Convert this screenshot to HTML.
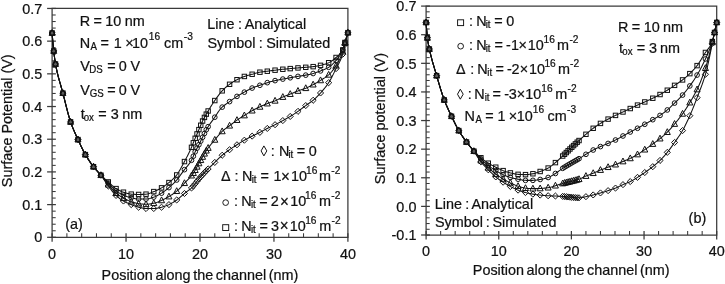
<!DOCTYPE html>
<html><head><meta charset="utf-8"><title>Surface potential</title>
<style>html,body{margin:0;padding:0;background:#fff;}svg{display:block;}text{font-family:"Liberation Sans",sans-serif;}</style></head>
<body>
<svg width="725" height="284" viewBox="0 0 725 284" font-family='"Liberation Sans", sans-serif' font-size="14.4" fill="#111111">
<rect width="725" height="284" fill="#ffffff"/>
<defs><filter id="soft" x="0" y="0" width="100%" height="100%" filterUnits="userSpaceOnUse" color-interpolation-filters="sRGB"><feGaussianBlur stdDeviation="0.35"/></filter></defs>
<g filter="url(#soft)" stroke-linecap="butt">
<path d="M52.1 8.45 H347.9 V237.3 H52.1 Z" fill="none" stroke="#3a3a3a" stroke-width="1.25"/>
<path d="M47.1 8.45 H55.9" stroke="#3a3a3a" stroke-width="1.25"/>
<path d="M52.1 14.99 H55.7" stroke="#3a3a3a" stroke-width="1.05"/>
<path d="M52.1 21.53 H55.7" stroke="#3a3a3a" stroke-width="1.05"/>
<path d="M52.1 28.07 H55.7" stroke="#3a3a3a" stroke-width="1.05"/>
<path d="M52.1 34.6 H55.7" stroke="#3a3a3a" stroke-width="1.05"/>
<path d="M47.1 41.14 H55.9" stroke="#3a3a3a" stroke-width="1.25"/>
<path d="M52.1 47.68 H55.7" stroke="#3a3a3a" stroke-width="1.05"/>
<path d="M52.1 54.22 H55.7" stroke="#3a3a3a" stroke-width="1.05"/>
<path d="M52.1 60.76 H55.7" stroke="#3a3a3a" stroke-width="1.05"/>
<path d="M52.1 67.3 H55.7" stroke="#3a3a3a" stroke-width="1.05"/>
<path d="M47.1 73.84 H55.9" stroke="#3a3a3a" stroke-width="1.25"/>
<path d="M52.1 80.37 H55.7" stroke="#3a3a3a" stroke-width="1.05"/>
<path d="M52.1 86.91 H55.7" stroke="#3a3a3a" stroke-width="1.05"/>
<path d="M52.1 93.45 H55.7" stroke="#3a3a3a" stroke-width="1.05"/>
<path d="M52.1 99.99 H55.7" stroke="#3a3a3a" stroke-width="1.05"/>
<path d="M47.1 106.53 H55.9" stroke="#3a3a3a" stroke-width="1.25"/>
<path d="M52.1 113.07 H55.7" stroke="#3a3a3a" stroke-width="1.05"/>
<path d="M52.1 119.61 H55.7" stroke="#3a3a3a" stroke-width="1.05"/>
<path d="M52.1 126.14 H55.7" stroke="#3a3a3a" stroke-width="1.05"/>
<path d="M52.1 132.68 H55.7" stroke="#3a3a3a" stroke-width="1.05"/>
<path d="M47.1 139.22 H55.9" stroke="#3a3a3a" stroke-width="1.25"/>
<path d="M52.1 145.76 H55.7" stroke="#3a3a3a" stroke-width="1.05"/>
<path d="M52.1 152.3 H55.7" stroke="#3a3a3a" stroke-width="1.05"/>
<path d="M52.1 158.84 H55.7" stroke="#3a3a3a" stroke-width="1.05"/>
<path d="M52.1 165.38 H55.7" stroke="#3a3a3a" stroke-width="1.05"/>
<path d="M47.1 171.91 H55.9" stroke="#3a3a3a" stroke-width="1.25"/>
<path d="M52.1 178.45 H55.7" stroke="#3a3a3a" stroke-width="1.05"/>
<path d="M52.1 184.99 H55.7" stroke="#3a3a3a" stroke-width="1.05"/>
<path d="M52.1 191.53 H55.7" stroke="#3a3a3a" stroke-width="1.05"/>
<path d="M52.1 198.07 H55.7" stroke="#3a3a3a" stroke-width="1.05"/>
<path d="M47.1 204.61 H55.9" stroke="#3a3a3a" stroke-width="1.25"/>
<path d="M52.1 211.15 H55.7" stroke="#3a3a3a" stroke-width="1.05"/>
<path d="M52.1 217.68 H55.7" stroke="#3a3a3a" stroke-width="1.05"/>
<path d="M52.1 224.22 H55.7" stroke="#3a3a3a" stroke-width="1.05"/>
<path d="M52.1 230.76 H55.7" stroke="#3a3a3a" stroke-width="1.05"/>
<path d="M47.1 237.3 H55.9" stroke="#3a3a3a" stroke-width="1.25"/>
<path d="M52.1 233.3 V241.7" stroke="#3a3a3a" stroke-width="1.25"/>
<path d="M66.89 233.3 V237.3" stroke="#3a3a3a" stroke-width="1.05"/>
<path d="M81.68 233.3 V237.3" stroke="#3a3a3a" stroke-width="1.05"/>
<path d="M96.47 233.3 V237.3" stroke="#3a3a3a" stroke-width="1.05"/>
<path d="M111.26 233.3 V237.3" stroke="#3a3a3a" stroke-width="1.05"/>
<path d="M126.05 233.3 V241.7" stroke="#3a3a3a" stroke-width="1.25"/>
<path d="M140.84 233.3 V237.3" stroke="#3a3a3a" stroke-width="1.05"/>
<path d="M155.63 233.3 V237.3" stroke="#3a3a3a" stroke-width="1.05"/>
<path d="M170.42 233.3 V237.3" stroke="#3a3a3a" stroke-width="1.05"/>
<path d="M185.21 233.3 V237.3" stroke="#3a3a3a" stroke-width="1.05"/>
<path d="M200 233.3 V241.7" stroke="#3a3a3a" stroke-width="1.25"/>
<path d="M214.79 233.3 V237.3" stroke="#3a3a3a" stroke-width="1.05"/>
<path d="M229.58 233.3 V237.3" stroke="#3a3a3a" stroke-width="1.05"/>
<path d="M244.37 233.3 V237.3" stroke="#3a3a3a" stroke-width="1.05"/>
<path d="M259.16 233.3 V237.3" stroke="#3a3a3a" stroke-width="1.05"/>
<path d="M273.95 233.3 V241.7" stroke="#3a3a3a" stroke-width="1.25"/>
<path d="M288.74 233.3 V237.3" stroke="#3a3a3a" stroke-width="1.05"/>
<path d="M303.53 233.3 V237.3" stroke="#3a3a3a" stroke-width="1.05"/>
<path d="M318.32 233.3 V237.3" stroke="#3a3a3a" stroke-width="1.05"/>
<path d="M333.11 233.3 V237.3" stroke="#3a3a3a" stroke-width="1.05"/>
<path d="M347.9 233.3 V241.7" stroke="#3a3a3a" stroke-width="1.25"/>
<text transform="scale(1 1.04)" x="42.3" y="13.125" text-anchor="end" stroke="#111111" stroke-width="0.22">0.7</text>
<text transform="scale(1 1.04)" x="42.3" y="44.560" text-anchor="end" stroke="#111111" stroke-width="0.22">0.6</text>
<text transform="scale(1 1.04)" x="42.3" y="75.996" text-anchor="end" stroke="#111111" stroke-width="0.22">0.5</text>
<text transform="scale(1 1.04)" x="42.3" y="107.431" text-anchor="end" stroke="#111111" stroke-width="0.22">0.4</text>
<text transform="scale(1 1.04)" x="42.3" y="138.867" text-anchor="end" stroke="#111111" stroke-width="0.22">0.3</text>
<text transform="scale(1 1.04)" x="42.3" y="170.302" text-anchor="end" stroke="#111111" stroke-width="0.22">0.2</text>
<text transform="scale(1 1.04)" x="42.3" y="201.738" text-anchor="end" stroke="#111111" stroke-width="0.22">0.1</text>
<text transform="scale(1 1.04)" x="42.3" y="233.173" text-anchor="end" stroke="#111111" stroke-width="0.22">0</text>
<text transform="scale(1 1.04)" x="52.1" y="248.846" text-anchor="middle" stroke="#111111" stroke-width="0.22">0</text>
<text transform="scale(1 1.04)" x="126.05" y="248.846" text-anchor="middle" stroke="#111111" stroke-width="0.22">10</text>
<text transform="scale(1 1.04)" x="200" y="248.846" text-anchor="middle" stroke="#111111" stroke-width="0.22">20</text>
<text transform="scale(1 1.04)" x="273.95" y="248.846" text-anchor="middle" stroke="#111111" stroke-width="0.22">30</text>
<text transform="scale(1 1.04)" x="347.9" y="248.846" text-anchor="middle" stroke="#111111" stroke-width="0.22">40</text>
<path d="M426.1 6.1 H716.7 V235 H426.1 Z" fill="none" stroke="#3a3a3a" stroke-width="1.25"/>
<path d="M421.1 6.1 H429.9" stroke="#3a3a3a" stroke-width="1.25"/>
<path d="M426.1 11.82 H429.7" stroke="#3a3a3a" stroke-width="1.05"/>
<path d="M426.1 17.55 H429.7" stroke="#3a3a3a" stroke-width="1.05"/>
<path d="M426.1 23.27 H429.7" stroke="#3a3a3a" stroke-width="1.05"/>
<path d="M426.1 28.99 H429.7" stroke="#3a3a3a" stroke-width="1.05"/>
<path d="M421.1 34.71 H429.9" stroke="#3a3a3a" stroke-width="1.25"/>
<path d="M426.1 40.44 H429.7" stroke="#3a3a3a" stroke-width="1.05"/>
<path d="M426.1 46.16 H429.7" stroke="#3a3a3a" stroke-width="1.05"/>
<path d="M426.1 51.88 H429.7" stroke="#3a3a3a" stroke-width="1.05"/>
<path d="M426.1 57.6 H429.7" stroke="#3a3a3a" stroke-width="1.05"/>
<path d="M421.1 63.33 H429.9" stroke="#3a3a3a" stroke-width="1.25"/>
<path d="M426.1 69.05 H429.7" stroke="#3a3a3a" stroke-width="1.05"/>
<path d="M426.1 74.77 H429.7" stroke="#3a3a3a" stroke-width="1.05"/>
<path d="M426.1 80.49 H429.7" stroke="#3a3a3a" stroke-width="1.05"/>
<path d="M426.1 86.22 H429.7" stroke="#3a3a3a" stroke-width="1.05"/>
<path d="M421.1 91.94 H429.9" stroke="#3a3a3a" stroke-width="1.25"/>
<path d="M426.1 97.66 H429.7" stroke="#3a3a3a" stroke-width="1.05"/>
<path d="M426.1 103.38 H429.7" stroke="#3a3a3a" stroke-width="1.05"/>
<path d="M426.1 109.11 H429.7" stroke="#3a3a3a" stroke-width="1.05"/>
<path d="M426.1 114.83 H429.7" stroke="#3a3a3a" stroke-width="1.05"/>
<path d="M421.1 120.55 H429.9" stroke="#3a3a3a" stroke-width="1.25"/>
<path d="M426.1 126.27 H429.7" stroke="#3a3a3a" stroke-width="1.05"/>
<path d="M426.1 132 H429.7" stroke="#3a3a3a" stroke-width="1.05"/>
<path d="M426.1 137.72 H429.7" stroke="#3a3a3a" stroke-width="1.05"/>
<path d="M426.1 143.44 H429.7" stroke="#3a3a3a" stroke-width="1.05"/>
<path d="M421.1 149.16 H429.9" stroke="#3a3a3a" stroke-width="1.25"/>
<path d="M426.1 154.88 H429.7" stroke="#3a3a3a" stroke-width="1.05"/>
<path d="M426.1 160.61 H429.7" stroke="#3a3a3a" stroke-width="1.05"/>
<path d="M426.1 166.33 H429.7" stroke="#3a3a3a" stroke-width="1.05"/>
<path d="M426.1 172.05 H429.7" stroke="#3a3a3a" stroke-width="1.05"/>
<path d="M421.1 177.78 H429.9" stroke="#3a3a3a" stroke-width="1.25"/>
<path d="M426.1 183.5 H429.7" stroke="#3a3a3a" stroke-width="1.05"/>
<path d="M426.1 189.22 H429.7" stroke="#3a3a3a" stroke-width="1.05"/>
<path d="M426.1 194.94 H429.7" stroke="#3a3a3a" stroke-width="1.05"/>
<path d="M426.1 200.67 H429.7" stroke="#3a3a3a" stroke-width="1.05"/>
<path d="M421.1 206.39 H429.9" stroke="#3a3a3a" stroke-width="1.25"/>
<path d="M426.1 212.11 H429.7" stroke="#3a3a3a" stroke-width="1.05"/>
<path d="M426.1 217.83 H429.7" stroke="#3a3a3a" stroke-width="1.05"/>
<path d="M426.1 223.55 H429.7" stroke="#3a3a3a" stroke-width="1.05"/>
<path d="M426.1 229.28 H429.7" stroke="#3a3a3a" stroke-width="1.05"/>
<path d="M421.1 235 H429.9" stroke="#3a3a3a" stroke-width="1.25"/>
<path d="M426.1 231 V239.4" stroke="#3a3a3a" stroke-width="1.25"/>
<path d="M440.63 231 V235" stroke="#3a3a3a" stroke-width="1.05"/>
<path d="M455.16 231 V235" stroke="#3a3a3a" stroke-width="1.05"/>
<path d="M469.69 231 V235" stroke="#3a3a3a" stroke-width="1.05"/>
<path d="M484.22 231 V235" stroke="#3a3a3a" stroke-width="1.05"/>
<path d="M498.75 231 V239.4" stroke="#3a3a3a" stroke-width="1.25"/>
<path d="M513.28 231 V235" stroke="#3a3a3a" stroke-width="1.05"/>
<path d="M527.81 231 V235" stroke="#3a3a3a" stroke-width="1.05"/>
<path d="M542.34 231 V235" stroke="#3a3a3a" stroke-width="1.05"/>
<path d="M556.87 231 V235" stroke="#3a3a3a" stroke-width="1.05"/>
<path d="M571.4 231 V239.4" stroke="#3a3a3a" stroke-width="1.25"/>
<path d="M585.93 231 V235" stroke="#3a3a3a" stroke-width="1.05"/>
<path d="M600.46 231 V235" stroke="#3a3a3a" stroke-width="1.05"/>
<path d="M614.99 231 V235" stroke="#3a3a3a" stroke-width="1.05"/>
<path d="M629.52 231 V235" stroke="#3a3a3a" stroke-width="1.05"/>
<path d="M644.05 231 V239.4" stroke="#3a3a3a" stroke-width="1.25"/>
<path d="M658.58 231 V235" stroke="#3a3a3a" stroke-width="1.05"/>
<path d="M673.11 231 V235" stroke="#3a3a3a" stroke-width="1.05"/>
<path d="M687.64 231 V235" stroke="#3a3a3a" stroke-width="1.05"/>
<path d="M702.17 231 V235" stroke="#3a3a3a" stroke-width="1.05"/>
<path d="M716.7 231 V239.4" stroke="#3a3a3a" stroke-width="1.25"/>
<text transform="scale(1 1.04)" x="416.4" y="10.865" text-anchor="end" stroke="#111111" stroke-width="0.22">0.7</text>
<text transform="scale(1 1.04)" x="416.4" y="38.377" text-anchor="end" stroke="#111111" stroke-width="0.22">0.6</text>
<text transform="scale(1 1.04)" x="416.4" y="65.889" text-anchor="end" stroke="#111111" stroke-width="0.22">0.5</text>
<text transform="scale(1 1.04)" x="416.4" y="93.401" text-anchor="end" stroke="#111111" stroke-width="0.22">0.4</text>
<text transform="scale(1 1.04)" x="416.4" y="120.913" text-anchor="end" stroke="#111111" stroke-width="0.22">0.3</text>
<text transform="scale(1 1.04)" x="416.4" y="148.425" text-anchor="end" stroke="#111111" stroke-width="0.22">0.2</text>
<text transform="scale(1 1.04)" x="416.4" y="175.938" text-anchor="end" stroke="#111111" stroke-width="0.22">0.1</text>
<text transform="scale(1 1.04)" x="416.4" y="203.450" text-anchor="end" stroke="#111111" stroke-width="0.22">0.0</text>
<text transform="scale(1 1.04)" x="416.4" y="230.962" text-anchor="end" stroke="#111111" stroke-width="0.22">-0.1</text>
<text transform="scale(1 1.04)" x="426.1" y="246.442" text-anchor="middle" stroke="#111111" stroke-width="0.22">0</text>
<text transform="scale(1 1.04)" x="498.75" y="246.442" text-anchor="middle" stroke="#111111" stroke-width="0.22">10</text>
<text transform="scale(1 1.04)" x="571.4" y="246.442" text-anchor="middle" stroke="#111111" stroke-width="0.22">20</text>
<text transform="scale(1 1.04)" x="644.05" y="246.442" text-anchor="middle" stroke="#111111" stroke-width="0.22">30</text>
<text transform="scale(1 1.04)" x="716.7" y="246.442" text-anchor="middle" stroke="#111111" stroke-width="0.22">40</text>
<path d="M52.1 32.97 L52.28 35.31 L52.47 37.59 L52.65 39.8 L52.84 41.93 L53.02 43.99 L53.21 45.95 L53.39 47.83 L53.58 49.6 L53.76 51.28 L53.95 52.89 L54.13 54.45 L54.32 55.95 L54.5 57.4 L54.69 58.79 L54.87 60.11 L55.06 61.36 L55.24 62.53 L55.43 63.62 L55.61 64.63 L55.8 65.61 L55.98 66.57 L56.17 67.5 L56.35 68.4 L56.54 69.29 L56.72 70.15 L56.91 70.99 L57.09 71.81 L57.28 72.62 L57.46 73.4 L57.65 74.17 L57.83 74.92 L58.02 75.66 L58.2 76.38 L58.39 77.09 L58.57 77.79 L58.76 78.48 L58.94 79.15 L59.13 79.82 L59.31 80.48 L59.49 81.13 L60.23 83.7 L60.97 86.23 L61.71 88.8 L62.45 91.46 L63.19 94.27 L63.93 97.17 L64.67 100.13 L65.41 103.1 L66.15 106.06 L66.89 108.98 L67.63 111.83 L68.37 114.57 L69.11 117.18 L69.85 119.64 L70.59 121.89 L71.33 123.99 L72.07 125.97 L72.81 127.85 L73.55 129.65 L74.28 131.38 L75.02 133.06 L75.76 134.7 L76.5 136.32 L77.24 137.93 L77.98 139.55 L78.72 141.17 L79.46 142.78 L80.2 144.38 L80.94 145.96 L81.68 147.51 L82.42 149.02 L83.16 150.49 L83.9 151.91 L84.64 153.28 L85.38 154.59 L86.12 155.84 L86.86 157.06 L87.6 158.25 L88.34 159.4 L89.07 160.52 L89.81 161.61 L90.55 162.68 L91.29 163.71 L92.03 164.73 L92.77 165.72 L93.51 166.68 L94.25 167.63 L94.99 168.55 L95.73 169.45 L96.47 170.33 L97.21 171.19 L97.95 172.03 L98.69 172.85 L99.43 173.64 L100.17 174.42 L100.91 175.18 L101.65 175.92 L102.39 176.64 L103.13 177.33 L103.86 178.01 L104.6 178.67 L105.34 179.32 L106.08 179.97 L106.82 180.62 L107.56 181.27 L108.3 181.92 L109.04 182.59 L109.78 183.28 L110.52 183.97 L111.26 184.67 L112 185.35 L112.74 186.02 L113.48 186.66 L114.22 187.27 L114.96 187.84 L115.7 188.35 L116.44 188.81 L117.18 189.26 L117.92 189.68 L118.66 190.08 L119.39 190.47 L120.13 190.83 L120.87 191.18 L121.61 191.5 L122.35 191.79 L123.09 192.06 L123.83 192.31 L124.57 192.55 L125.31 192.78 L126.05 193.01 L126.79 193.23 L127.53 193.44 L128.27 193.62 L129.01 193.79 L129.75 193.93 L130.49 194.05 L131.23 194.13 L131.97 194.18 L132.71 194.23 L133.44 194.28 L134.18 194.33 L134.92 194.37 L135.66 194.4 L136.4 194.43 L137.14 194.45 L137.88 194.47 L138.62 194.47 L139.36 194.47 L140.1 194.46 L140.84 194.45 L141.58 194.42 L142.32 194.39 L143.06 194.36 L143.8 194.32 L144.54 194.27 L145.28 194.22 L146.02 194.17 L146.76 194.1 L147.5 193.97 L148.23 193.79 L148.97 193.57 L149.71 193.3 L150.45 193.01 L151.19 192.7 L151.93 192.38 L152.67 192.06 L153.41 191.74 L154.15 191.44 L154.89 191.14 L155.63 190.82 L156.37 190.49 L157.11 190.15 L157.85 189.8 L158.59 189.44 L159.33 189.06 L160.07 188.67 L160.81 188.27 L161.55 187.85 L162.29 187.41 L163.02 186.95 L163.76 186.47 L164.5 185.96 L165.24 185.44 L165.98 184.9 L166.72 184.35 L167.46 183.77 L168.2 183.18 L168.94 182.58 L169.68 181.97 L170.42 181.34 L171.16 180.7 L171.9 180.04 L172.64 179.35 L173.38 178.64 L174.12 177.89 L174.86 177.11 L175.6 176.28 L176.34 175.4 L177.08 174.48 L177.81 173.45 L178.55 172.32 L179.29 171.1 L180.03 169.82 L180.77 168.49 L181.51 167.12 L182.25 165.73 L182.99 164.32 L183.73 162.93 L184.47 161.56 L185.21 160.18 L185.95 158.79 L186.69 157.37 L187.43 155.93 L188.17 154.47 L188.91 152.96 L189.65 151.42 L190.39 149.84 L191.13 148.2 L191.87 146.45 L192.6 144.63 L193.34 142.78 L194.08 140.95 L194.82 139.17 L195.56 137.41 L196.3 135.67 L197.04 133.93 L197.78 132.2 L198.52 130.48 L199.26 128.76 L200 127.02 L200.74 125.25 L201.48 123.51 L202.22 121.83 L202.96 120.26 L203.7 118.8 L204.44 117.41 L205.18 116.07 L205.92 114.77 L206.66 113.5 L207.39 112.24 L208.13 110.98 L208.87 109.74 L209.61 108.52 L210.35 107.32 L211.09 106.13 L211.83 104.97 L212.57 103.83 L213.31 102.71 L214.05 101.62 L214.79 100.55 L215.53 99.48 L216.27 98.41 L217.01 97.37 L217.75 96.33 L218.49 95.33 L219.23 94.35 L219.97 93.41 L220.71 92.5 L221.45 91.64 L222.18 90.84 L222.92 90.07 L223.66 89.33 L224.4 88.61 L225.14 87.93 L225.88 87.26 L226.62 86.62 L227.36 86.01 L228.1 85.42 L228.84 84.85 L229.58 84.3 L230.32 83.77 L231.06 83.25 L231.8 82.76 L232.54 82.28 L233.28 81.81 L234.02 81.36 L234.76 80.93 L235.5 80.51 L236.24 80.11 L236.97 79.72 L237.71 79.34 L238.45 78.97 L239.19 78.61 L239.93 78.27 L240.67 77.93 L241.41 77.6 L242.15 77.29 L242.89 77 L243.63 76.72 L244.37 76.45 L245.11 76.2 L245.85 75.97 L246.59 75.75 L247.33 75.54 L248.07 75.33 L248.81 75.14 L249.55 74.94 L250.29 74.75 L251.03 74.56 L251.76 74.36 L252.5 74.16 L253.24 73.96 L253.98 73.74 L254.72 73.52 L255.46 73.31 L256.2 73.09 L256.94 72.89 L257.68 72.69 L258.42 72.51 L259.16 72.34 L259.9 72.2 L260.64 72.08 L261.38 71.96 L262.12 71.86 L262.86 71.76 L263.6 71.67 L264.34 71.58 L265.08 71.49 L265.82 71.41 L266.56 71.32 L267.29 71.22 L268.03 71.12 L268.77 71.02 L269.51 70.92 L270.25 70.82 L270.99 70.72 L271.73 70.63 L272.47 70.53 L273.21 70.43 L273.95 70.33 L274.69 70.24 L275.43 70.15 L276.17 70.05 L276.91 69.96 L277.65 69.86 L278.39 69.77 L279.13 69.68 L279.87 69.59 L280.61 69.5 L281.34 69.42 L282.08 69.34 L282.82 69.26 L283.56 69.19 L284.3 69.12 L285.04 69.05 L285.78 68.98 L286.52 68.92 L287.26 68.86 L288 68.79 L288.74 68.73 L289.48 68.67 L290.22 68.6 L290.96 68.54 L291.7 68.47 L292.44 68.41 L293.18 68.34 L293.92 68.27 L294.66 68.21 L295.4 68.14 L296.13 68.08 L296.87 68.01 L297.61 67.95 L298.35 67.89 L299.09 67.83 L299.83 67.77 L300.57 67.71 L301.31 67.65 L302.05 67.6 L302.79 67.54 L303.53 67.48 L304.27 67.42 L305.01 67.36 L305.75 67.3 L306.49 67.24 L307.23 67.18 L307.97 67.12 L308.71 67.06 L309.45 67 L310.19 66.94 L310.92 66.87 L311.66 66.8 L312.4 66.73 L313.14 66.64 L313.88 66.55 L314.62 66.45 L315.36 66.34 L316.1 66.22 L316.84 66.09 L317.58 65.95 L318.32 65.81 L319.06 65.66 L319.8 65.5 L320.54 65.34 L321.28 65.16 L322.02 64.98 L322.76 64.79 L323.5 64.58 L324.24 64.36 L324.98 64.13 L325.71 63.88 L326.45 63.62 L327.19 63.34 L327.93 63.04 L328.67 62.72 L329.41 62.37 L330.15 61.96 L330.89 61.51 L331.63 61.03 L332.37 60.5 L333.11 59.95 L333.85 59.36 L334.59 58.75 L335.33 58.13 L336.07 57.49 L336.81 56.86 L337.55 56.23 L338.29 55.59 L339.03 54.91 L339.77 54.16 L340.5 53.31 L340.69 53.08 L340.87 52.85 L341.06 52.6 L341.24 52.35 L341.43 52.09 L341.61 51.82 L341.8 51.54 L341.98 51.24 L342.17 50.94 L342.35 50.63 L342.54 50.31 L342.72 49.97 L342.72 49.97 L342.91 49.58 L343.09 49.11 L343.28 48.57 L343.46 47.96 L343.46 47.96 L343.65 47.31 L343.83 46.63 L344.02 45.92 L344.2 45.2 L344.39 44.48 L344.57 43.77 L344.76 43.09 L344.94 42.45 L345.13 41.83 L345.31 41.21 L345.5 40.59 L345.68 39.98 L345.87 39.36 L346.05 38.75 L346.24 38.13 L346.42 37.52 L346.42 37.52 L346.61 36.9 L346.79 36.29 L346.98 35.68 L347.16 35.07 L347.16 35.07 L347.35 34.46 L347.53 33.86 L347.72 33.25 L347.9 32.64" fill="none" stroke="#111111" stroke-width="1.05" stroke-linejoin="round"/>
<path d="M52.1 32.97 L52.28 35.31 L52.47 37.59 L52.65 39.8 L52.84 41.93 L53.02 43.99 L53.21 45.95 L53.39 47.83 L53.58 49.6 L53.76 51.28 L53.95 52.89 L54.13 54.45 L54.32 55.95 L54.5 57.4 L54.69 58.79 L54.87 60.11 L55.06 61.36 L55.24 62.53 L55.43 63.62 L55.61 64.63 L55.8 65.61 L55.98 66.57 L56.17 67.5 L56.35 68.4 L56.54 69.29 L56.72 70.15 L56.91 70.99 L57.09 71.81 L57.28 72.62 L57.46 73.4 L57.65 74.17 L57.83 74.92 L58.02 75.66 L58.2 76.38 L58.39 77.09 L58.57 77.79 L58.76 78.48 L58.94 79.15 L59.13 79.82 L59.31 80.48 L59.49 81.13 L60.23 83.7 L60.97 86.23 L61.71 88.8 L62.45 91.46 L63.19 94.27 L63.93 97.17 L64.67 100.13 L65.41 103.1 L66.15 106.06 L66.89 108.98 L67.63 111.83 L68.37 114.57 L69.11 117.18 L69.85 119.64 L70.59 121.89 L71.33 123.99 L72.07 125.97 L72.81 127.85 L73.55 129.65 L74.28 131.38 L75.02 133.06 L75.76 134.7 L76.5 136.32 L77.24 137.93 L77.98 139.55 L78.72 141.17 L79.46 142.78 L80.2 144.38 L80.94 145.96 L81.68 147.51 L82.42 149.02 L83.16 150.49 L83.9 151.91 L84.64 153.28 L85.38 154.59 L86.12 155.84 L86.86 157.06 L87.6 158.25 L88.34 159.4 L89.07 160.52 L89.81 161.61 L90.55 162.68 L91.29 163.71 L92.03 164.73 L92.77 165.72 L93.51 166.68 L94.25 167.62 L94.99 168.53 L95.73 169.41 L96.47 170.27 L97.21 171.11 L97.95 171.94 L98.69 172.75 L99.43 173.56 L100.17 174.37 L100.91 175.18 L101.65 176 L102.39 176.8 L103.13 177.59 L103.86 178.38 L104.6 179.17 L105.34 179.95 L106.08 180.72 L106.82 181.49 L107.56 182.26 L108.3 183.03 L109.04 183.81 L109.78 184.62 L110.52 185.43 L111.26 186.25 L112 187.06 L112.74 187.84 L113.48 188.6 L114.22 189.31 L114.96 189.96 L115.7 190.55 L116.44 191.09 L117.18 191.61 L117.92 192.11 L118.66 192.58 L119.39 193.04 L120.13 193.47 L120.87 193.88 L121.61 194.26 L122.35 194.62 L123.09 194.96 L123.83 195.28 L124.57 195.59 L125.31 195.88 L126.05 196.16 L126.79 196.43 L127.53 196.69 L128.27 196.93 L129.01 197.16 L129.75 197.37 L130.49 197.56 L131.23 197.74 L131.97 197.92 L132.71 198.1 L133.44 198.28 L134.18 198.45 L134.92 198.61 L135.66 198.75 L136.4 198.87 L137.14 198.97 L137.88 199.03 L138.62 199.05 L139.36 199.05 L140.1 199.05 L140.84 199.05 L141.58 199.05 L142.32 199.05 L143.06 199.05 L143.8 199.05 L144.54 199.05 L145.28 199.05 L146.02 199.05 L146.76 199.02 L147.5 198.94 L148.23 198.81 L148.97 198.65 L149.71 198.45 L150.45 198.23 L151.19 197.98 L151.93 197.73 L152.67 197.47 L153.41 197.21 L154.15 196.96 L154.89 196.68 L155.63 196.37 L156.37 196.03 L157.11 195.67 L157.85 195.29 L158.59 194.89 L159.33 194.47 L160.07 194.05 L160.81 193.61 L161.55 193.16 L162.29 192.7 L163.02 192.21 L163.76 191.7 L164.5 191.17 L165.24 190.61 L165.98 190.04 L166.72 189.45 L167.46 188.84 L168.2 188.23 L168.94 187.61 L169.68 186.97 L170.42 186.32 L171.16 185.65 L171.9 184.97 L172.64 184.26 L173.38 183.54 L174.12 182.79 L174.86 182.02 L175.6 181.23 L176.34 180.41 L177.08 179.56 L177.81 178.65 L178.55 177.7 L179.29 176.71 L180.03 175.7 L180.77 174.68 L181.51 173.65 L182.25 172.62 L182.99 171.6 L183.73 170.61 L184.47 169.65 L185.21 168.73 L185.95 167.83 L186.69 166.95 L187.43 166.05 L188.17 165.13 L188.91 164.18 L189.65 163.16 L190.39 162.07 L191.13 160.9 L191.87 159.6 L192.6 158.02 L193.34 156.24 L194.08 154.4 L194.82 152.62 L195.56 151.03 L196.3 149.56 L197.04 148.15 L197.78 146.78 L198.52 145.41 L199.26 144.01 L200 142.56 L200.74 141.07 L201.48 139.56 L202.22 138.04 L202.96 136.53 L203.7 135.02 L204.44 133.48 L205.18 131.93 L205.92 130.45 L206.66 129.09 L207.39 127.85 L208.13 126.67 L208.87 125.55 L209.61 124.47 L210.35 123.42 L211.09 122.4 L211.83 121.39 L212.57 120.37 L213.31 119.35 L214.05 118.3 L214.79 117.21 L215.53 116.09 L216.27 114.94 L217.01 113.79 L217.75 112.66 L218.49 111.56 L219.23 110.51 L219.97 109.53 L220.71 108.63 L221.45 107.84 L222.18 107.13 L222.92 106.47 L223.66 105.86 L224.4 105.28 L225.14 104.73 L225.88 104.2 L226.62 103.69 L227.36 103.18 L228.1 102.67 L228.84 102.16 L229.58 101.62 L230.32 101.08 L231.06 100.54 L231.8 99.99 L232.54 99.45 L233.28 98.92 L234.02 98.39 L234.76 97.87 L235.5 97.36 L236.24 96.87 L236.97 96.39 L237.71 95.93 L238.45 95.48 L239.19 95.04 L239.93 94.61 L240.67 94.19 L241.41 93.78 L242.15 93.37 L242.89 92.96 L243.63 92.55 L244.37 92.14 L245.11 91.73 L245.85 91.32 L246.59 90.9 L247.33 90.48 L248.07 90.07 L248.81 89.67 L249.55 89.28 L250.29 88.91 L251.03 88.55 L251.76 88.22 L252.5 87.91 L253.24 87.62 L253.98 87.33 L254.72 87.06 L255.46 86.8 L256.2 86.55 L256.94 86.3 L257.68 86.05 L258.42 85.79 L259.16 85.54 L259.9 85.28 L260.64 85.01 L261.38 84.74 L262.12 84.47 L262.86 84.19 L263.6 83.92 L264.34 83.65 L265.08 83.39 L265.82 83.14 L266.56 82.89 L267.29 82.66 L268.03 82.44 L268.77 82.23 L269.51 82.02 L270.25 81.81 L270.99 81.61 L271.73 81.42 L272.47 81.23 L273.21 81.05 L273.95 80.87 L274.69 80.7 L275.43 80.53 L276.17 80.37 L276.91 80.22 L277.65 80.06 L278.39 79.92 L279.13 79.77 L279.87 79.63 L280.61 79.48 L281.34 79.34 L282.08 79.21 L282.82 79.07 L283.56 78.93 L284.3 78.79 L285.04 78.66 L285.78 78.53 L286.52 78.4 L287.26 78.27 L288 78.15 L288.74 78.02 L289.48 77.89 L290.22 77.76 L290.96 77.63 L291.7 77.5 L292.44 77.36 L293.18 77.23 L293.92 77.1 L294.66 76.97 L295.4 76.83 L296.13 76.7 L296.87 76.58 L297.61 76.45 L298.35 76.33 L299.09 76.21 L299.83 76.1 L300.57 75.98 L301.31 75.87 L302.05 75.76 L302.79 75.64 L303.53 75.53 L304.27 75.41 L305.01 75.28 L305.75 75.14 L306.49 75 L307.23 74.86 L307.97 74.71 L308.71 74.56 L309.45 74.41 L310.19 74.24 L310.92 74.07 L311.66 73.89 L312.4 73.71 L313.14 73.51 L313.88 73.3 L314.62 73.07 L315.36 72.83 L316.1 72.58 L316.84 72.31 L317.58 72.04 L318.32 71.76 L319.06 71.47 L319.8 71.18 L320.54 70.89 L321.28 70.61 L322.02 70.32 L322.76 70.04 L323.5 69.76 L324.24 69.46 L324.98 69.15 L325.71 68.83 L326.45 68.49 L327.19 68.12 L327.93 67.73 L328.67 67.3 L329.41 66.82 L330.15 66.29 L330.89 65.71 L331.63 65.07 L332.37 64.39 L333.11 63.67 L333.85 62.91 L334.59 62.11 L335.33 61.29 L336.07 60.43 L336.81 59.55 L337.55 58.65 L338.29 57.69 L339.03 56.67 L339.77 55.56 L340.5 54.36 L340.69 54.04 L340.87 53.71 L341.06 53.38 L341.24 53.04 L341.43 52.69 L341.61 52.33 L341.8 51.96 L341.98 51.58 L342.17 51.19 L342.35 50.79 L342.54 50.39 L342.72 49.97 L342.72 49.97 L342.91 49.51 L343.09 49 L343.28 48.43 L343.46 47.82 L343.46 47.82 L343.65 47.18 L343.83 46.51 L344.02 45.82 L344.2 45.13 L344.39 44.43 L344.57 43.75 L344.76 43.09 L344.94 42.45 L345.13 41.83 L345.31 41.21 L345.5 40.59 L345.68 39.98 L345.87 39.36 L346.05 38.75 L346.24 38.13 L346.42 37.52 L346.42 37.52 L346.61 36.9 L346.79 36.29 L346.98 35.68 L347.16 35.07 L347.16 35.07 L347.35 34.46 L347.53 33.86 L347.72 33.25 L347.9 32.64" fill="none" stroke="#111111" stroke-width="1.05" stroke-linejoin="round"/>
<path d="M52.1 32.97 L52.28 35.31 L52.47 37.59 L52.65 39.8 L52.84 41.93 L53.02 43.99 L53.21 45.95 L53.39 47.83 L53.58 49.6 L53.76 51.28 L53.95 52.89 L54.13 54.45 L54.32 55.95 L54.5 57.4 L54.69 58.79 L54.87 60.11 L55.06 61.36 L55.24 62.53 L55.43 63.62 L55.61 64.63 L55.8 65.61 L55.98 66.57 L56.17 67.5 L56.35 68.4 L56.54 69.29 L56.72 70.15 L56.91 70.99 L57.09 71.81 L57.28 72.62 L57.46 73.4 L57.65 74.17 L57.83 74.92 L58.02 75.66 L58.2 76.38 L58.39 77.09 L58.57 77.79 L58.76 78.48 L58.94 79.15 L59.13 79.82 L59.31 80.48 L59.49 81.13 L60.23 83.7 L60.97 86.23 L61.71 88.8 L62.45 91.46 L63.19 94.27 L63.93 97.17 L64.67 100.13 L65.41 103.1 L66.15 106.06 L66.89 108.98 L67.63 111.83 L68.37 114.57 L69.11 117.18 L69.85 119.64 L70.59 121.89 L71.33 123.99 L72.07 125.97 L72.81 127.85 L73.55 129.65 L74.28 131.38 L75.02 133.06 L75.76 134.7 L76.5 136.32 L77.24 137.93 L77.98 139.55 L78.72 141.17 L79.46 142.78 L80.2 144.38 L80.94 145.96 L81.68 147.51 L82.42 149.02 L83.16 150.49 L83.9 151.91 L84.64 153.28 L85.38 154.59 L86.12 155.84 L86.86 157.06 L87.6 158.25 L88.34 159.4 L89.07 160.52 L89.81 161.61 L90.55 162.68 L91.29 163.71 L92.03 164.73 L92.77 165.72 L93.51 166.68 L94.25 167.62 L94.99 168.51 L95.73 169.36 L96.47 170.19 L97.21 171.01 L97.95 171.82 L98.69 172.63 L99.43 173.46 L100.17 174.31 L100.91 175.18 L101.65 176.1 L102.39 177.04 L103.13 178 L103.86 178.97 L104.6 179.95 L105.34 180.92 L106.08 181.89 L106.82 182.84 L107.56 183.77 L108.3 184.66 L109.04 185.55 L109.78 186.44 L110.52 187.33 L111.26 188.21 L112 189.07 L112.74 189.91 L113.48 190.71 L114.22 191.47 L114.96 192.19 L115.7 192.84 L116.44 193.44 L117.18 194.02 L117.92 194.58 L118.66 195.1 L119.39 195.61 L120.13 196.1 L120.87 196.56 L121.61 197.01 L122.35 197.45 L123.09 197.86 L123.83 198.27 L124.57 198.67 L125.31 199.06 L126.05 199.44 L126.79 199.81 L127.53 200.16 L128.27 200.5 L129.01 200.82 L129.75 201.12 L130.49 201.4 L131.23 201.66 L131.97 201.91 L132.71 202.16 L133.44 202.39 L134.18 202.62 L134.92 202.83 L135.66 203.03 L136.4 203.22 L137.14 203.38 L137.88 203.51 L138.62 203.63 L139.36 203.72 L140.1 203.82 L140.84 203.91 L141.58 204 L142.32 204.08 L143.06 204.14 L143.8 204.2 L144.54 204.24 L145.28 204.27 L146.02 204.28 L146.76 204.27 L147.5 204.23 L148.23 204.17 L148.97 204.08 L149.71 203.98 L150.45 203.87 L151.19 203.74 L151.93 203.6 L152.67 203.45 L153.41 203.29 L154.15 203.13 L154.89 202.97 L155.63 202.79 L156.37 202.57 L157.11 202.31 L157.85 202.03 L158.59 201.72 L159.33 201.4 L160.07 201.06 L160.81 200.71 L161.55 200.37 L162.29 200.03 L163.02 199.69 L163.76 199.34 L164.5 198.97 L165.24 198.6 L165.98 198.21 L166.72 197.82 L167.46 197.41 L168.2 196.99 L168.94 196.55 L169.68 196.11 L170.42 195.65 L171.16 195.18 L171.9 194.7 L172.64 194.2 L173.38 193.68 L174.12 193.15 L174.86 192.61 L175.6 192.04 L176.34 191.46 L177.08 190.85 L177.81 190.22 L178.55 189.56 L179.29 188.85 L180.03 188.09 L180.77 187.31 L181.51 186.5 L182.25 185.68 L182.99 184.85 L183.73 184.01 L184.47 183.19 L185.21 182.38 L185.95 181.59 L186.69 180.82 L187.43 180.06 L188.17 179.3 L188.91 178.53 L189.65 177.75 L190.39 176.93 L191.13 176.07 L191.87 175.17 L192.6 174.2 L193.34 173.15 L194.08 172 L194.82 170.78 L195.56 169.49 L196.3 168.16 L197.04 166.8 L197.78 165.43 L198.52 164.07 L199.26 162.74 L200 161.45 L200.74 160.18 L201.48 158.89 L202.22 157.58 L202.96 156.28 L203.7 154.99 L204.44 153.71 L205.18 152.47 L205.92 151.27 L206.66 150.12 L207.39 149.03 L208.13 148 L208.87 147.01 L209.61 146.06 L210.35 145.14 L211.09 144.24 L211.83 143.35 L212.57 142.48 L213.31 141.62 L214.05 140.75 L214.79 139.88 L215.53 138.98 L216.27 138.08 L217.01 137.17 L217.75 136.27 L218.49 135.37 L219.23 134.5 L219.97 133.66 L220.71 132.85 L221.45 132.09 L222.18 131.38 L222.92 130.71 L223.66 130.09 L224.4 129.49 L225.14 128.92 L225.88 128.37 L226.62 127.84 L227.36 127.31 L228.1 126.78 L228.84 126.25 L229.58 125.71 L230.32 125.16 L231.06 124.6 L231.8 124.03 L232.54 123.46 L233.28 122.88 L234.02 122.31 L234.76 121.75 L235.5 121.19 L236.24 120.65 L236.97 120.12 L237.71 119.61 L238.45 119.11 L239.19 118.63 L239.93 118.17 L240.67 117.71 L241.41 117.26 L242.15 116.82 L242.89 116.37 L243.63 115.93 L244.37 115.48 L245.11 115.03 L245.85 114.57 L246.59 114.1 L247.33 113.62 L248.07 113.15 L248.81 112.67 L249.55 112.2 L250.29 111.74 L251.03 111.3 L251.76 110.86 L252.5 110.45 L253.24 110.06 L253.98 109.67 L254.72 109.3 L255.46 108.93 L256.2 108.58 L256.94 108.23 L257.68 107.88 L258.42 107.54 L259.16 107.2 L259.9 106.86 L260.64 106.51 L261.38 106.17 L262.12 105.83 L262.86 105.49 L263.6 105.16 L264.34 104.83 L265.08 104.51 L265.82 104.19 L266.56 103.89 L267.29 103.59 L268.03 103.3 L268.77 103.03 L269.51 102.76 L270.25 102.51 L270.99 102.26 L271.73 102.01 L272.47 101.75 L273.21 101.49 L273.95 101.22 L274.69 100.94 L275.43 100.64 L276.17 100.32 L276.91 99.98 L277.65 99.62 L278.39 99.25 L279.13 98.87 L279.87 98.48 L280.61 98.11 L281.34 97.74 L282.08 97.38 L282.82 97.05 L283.56 96.73 L284.3 96.42 L285.04 96.12 L285.78 95.83 L286.52 95.54 L287.26 95.26 L288 94.97 L288.74 94.69 L289.48 94.4 L290.22 94.11 L290.96 93.81 L291.7 93.51 L292.44 93.2 L293.18 92.9 L293.92 92.6 L294.66 92.3 L295.4 92 L296.13 91.7 L296.87 91.41 L297.61 91.12 L298.35 90.84 L299.09 90.56 L299.83 90.31 L300.57 90.05 L301.31 89.81 L302.05 89.56 L302.79 89.31 L303.53 89.06 L304.27 88.79 L305.01 88.51 L305.75 88.22 L306.49 87.91 L307.23 87.58 L307.97 87.24 L308.71 86.89 L309.45 86.53 L310.19 86.16 L310.92 85.78 L311.66 85.4 L312.4 85.01 L313.14 84.62 L313.88 84.23 L314.62 83.83 L315.36 83.42 L316.1 83.01 L316.84 82.59 L317.58 82.16 L318.32 81.72 L319.06 81.28 L319.8 80.83 L320.54 80.37 L321.28 79.92 L322.02 79.47 L322.76 79.02 L323.5 78.56 L324.24 78.1 L324.98 77.62 L325.71 77.12 L326.45 76.59 L327.19 76.04 L327.93 75.45 L328.67 74.82 L329.41 74.13 L330.15 73.4 L330.89 72.61 L331.63 71.77 L332.37 70.87 L333.11 69.93 L333.85 68.93 L334.59 67.89 L335.33 66.8 L336.07 65.66 L336.81 64.47 L337.55 63.22 L338.29 61.88 L339.03 60.46 L339.77 58.93 L340.5 57.3 L340.69 56.87 L340.87 56.43 L341.06 55.99 L341.24 55.54 L341.43 55.08 L341.61 54.61 L341.8 54.13 L341.98 53.64 L342.17 53.15 L342.35 52.64 L342.54 52.13 L342.72 51.6 L342.72 51.6 L342.91 51.04 L343.09 50.43 L343.28 49.77 L343.46 49.07 L343.46 49.07 L343.65 48.34 L343.83 47.58 L344.02 46.82 L344.2 46.05 L344.39 45.28 L344.57 44.53 L344.76 43.8 L344.94 43.1 L345.13 42.42 L345.31 41.75 L345.5 41.07 L345.68 40.4 L345.87 39.74 L346.05 39.07 L346.24 38.41 L346.42 37.76 L346.42 37.76 L346.61 37.1 L346.79 36.45 L346.98 35.81 L347.16 35.17 L347.16 35.17 L347.35 34.53 L347.53 33.9 L347.72 33.27 L347.9 32.64" fill="none" stroke="#111111" stroke-width="1.05" stroke-linejoin="round"/>
<path d="M52.1 32.97 L52.28 35.31 L52.47 37.59 L52.65 39.8 L52.84 41.93 L53.02 43.99 L53.21 45.95 L53.39 47.83 L53.58 49.6 L53.76 51.28 L53.95 52.89 L54.13 54.45 L54.32 55.95 L54.5 57.4 L54.69 58.79 L54.87 60.11 L55.06 61.36 L55.24 62.53 L55.43 63.62 L55.61 64.63 L55.8 65.61 L55.98 66.57 L56.17 67.5 L56.35 68.4 L56.54 69.29 L56.72 70.15 L56.91 70.99 L57.09 71.81 L57.28 72.62 L57.46 73.4 L57.65 74.17 L57.83 74.92 L58.02 75.66 L58.2 76.38 L58.39 77.09 L58.57 77.79 L58.76 78.48 L58.94 79.15 L59.13 79.82 L59.31 80.48 L59.49 81.13 L60.23 83.7 L60.97 86.23 L61.71 88.8 L62.45 91.46 L63.19 94.27 L63.93 97.17 L64.67 100.13 L65.41 103.1 L66.15 106.06 L66.89 108.98 L67.63 111.83 L68.37 114.57 L69.11 117.18 L69.85 119.64 L70.59 121.89 L71.33 123.99 L72.07 125.97 L72.81 127.85 L73.55 129.65 L74.28 131.38 L75.02 133.06 L75.76 134.7 L76.5 136.32 L77.24 137.93 L77.98 139.55 L78.72 141.17 L79.46 142.78 L80.2 144.38 L80.94 145.96 L81.68 147.51 L82.42 149.02 L83.16 150.49 L83.9 151.91 L84.64 153.28 L85.38 154.59 L86.12 155.84 L86.86 157.06 L87.6 158.25 L88.34 159.4 L89.07 160.52 L89.81 161.61 L90.55 162.68 L91.29 163.71 L92.03 164.73 L92.77 165.72 L93.51 166.68 L94.25 167.61 L94.99 168.49 L95.73 169.33 L96.47 170.14 L97.21 170.94 L97.95 171.74 L98.69 172.55 L99.43 173.39 L100.17 174.26 L100.91 175.18 L101.65 176.17 L102.39 177.21 L103.13 178.29 L103.86 179.41 L104.6 180.54 L105.34 181.67 L106.08 182.79 L106.82 183.9 L107.56 184.96 L108.3 185.97 L109.04 186.96 L109.78 187.95 L110.52 188.94 L111.26 189.91 L112 190.87 L112.74 191.8 L113.48 192.69 L114.22 193.55 L114.96 194.35 L115.7 195.1 L116.44 195.79 L117.18 196.45 L117.92 197.09 L118.66 197.7 L119.39 198.28 L120.13 198.83 L120.87 199.36 L121.61 199.87 L122.35 200.34 L123.09 200.8 L123.83 201.22 L124.57 201.62 L125.31 202.01 L126.05 202.37 L126.79 202.72 L127.53 203.06 L128.27 203.39 L129.01 203.7 L129.75 204.01 L130.49 204.31 L131.23 204.61 L131.97 204.9 L132.71 205.2 L133.44 205.5 L134.18 205.79 L134.92 206.07 L135.66 206.34 L136.4 206.59 L137.14 206.82 L137.88 207.03 L138.62 207.22 L139.36 207.4 L140.1 207.58 L140.84 207.76 L141.58 207.93 L142.32 208.09 L143.06 208.24 L143.8 208.36 L144.54 208.45 L145.28 208.51 L146.02 208.53 L146.76 208.53 L147.5 208.53 L148.23 208.53 L148.97 208.53 L149.71 208.53 L150.45 208.53 L151.19 208.53 L151.93 208.53 L152.67 208.53 L153.41 208.53 L154.15 208.53 L154.89 208.49 L155.63 208.42 L156.37 208.32 L157.11 208.2 L157.85 208.06 L158.59 207.91 L159.33 207.74 L160.07 207.57 L160.81 207.39 L161.55 207.22 L162.29 207.04 L163.02 206.84 L163.76 206.62 L164.5 206.37 L165.24 206.11 L165.98 205.84 L166.72 205.55 L167.46 205.25 L168.2 204.93 L168.94 204.61 L169.68 204.26 L170.42 203.89 L171.16 203.5 L171.9 203.08 L172.64 202.65 L173.38 202.19 L174.12 201.72 L174.86 201.23 L175.6 200.73 L176.34 200.22 L177.08 199.7 L177.81 199.16 L178.55 198.59 L179.29 197.98 L180.03 197.35 L180.77 196.71 L181.51 196.05 L182.25 195.39 L182.99 194.74 L183.73 194.1 L184.47 193.47 L185.21 192.87 L185.95 192.29 L186.69 191.74 L187.43 191.2 L188.17 190.65 L188.91 190.1 L189.65 189.53 L190.39 188.93 L191.13 188.29 L191.87 187.61 L192.6 186.85 L193.34 186.02 L194.08 185.12 L194.82 184.18 L195.56 183.21 L196.3 182.22 L197.04 181.24 L197.78 180.27 L198.52 179.34 L199.26 178.45 L200 177.61 L200.74 176.77 L201.48 175.95 L202.22 175.14 L202.96 174.33 L203.7 173.54 L204.44 172.75 L205.18 171.98 L205.92 171.2 L206.66 170.44 L207.39 169.68 L208.13 168.92 L208.87 168.18 L209.61 167.45 L210.35 166.72 L211.09 166 L211.83 165.29 L212.57 164.58 L213.31 163.87 L214.05 163.15 L214.79 162.43 L215.53 161.7 L216.27 160.96 L217.01 160.21 L217.75 159.47 L218.49 158.72 L219.23 157.98 L219.97 157.26 L220.71 156.56 L221.45 155.89 L222.18 155.24 L222.92 154.62 L223.66 154.03 L224.4 153.45 L225.14 152.88 L225.88 152.33 L226.62 151.79 L227.36 151.25 L228.1 150.73 L228.84 150.2 L229.58 149.68 L230.32 149.17 L231.06 148.66 L231.8 148.16 L232.54 147.66 L233.28 147.17 L234.02 146.69 L234.76 146.21 L235.5 145.73 L236.24 145.25 L236.97 144.78 L237.71 144.31 L238.45 143.83 L239.19 143.36 L239.93 142.89 L240.67 142.42 L241.41 141.96 L242.15 141.51 L242.89 141.06 L243.63 140.63 L244.37 140.2 L245.11 139.79 L245.85 139.38 L246.59 138.98 L247.33 138.59 L248.07 138.2 L248.81 137.82 L249.55 137.44 L250.29 137.07 L251.03 136.7 L251.76 136.32 L252.5 135.95 L253.24 135.58 L253.98 135.22 L254.72 134.86 L255.46 134.51 L256.2 134.16 L256.94 133.8 L257.68 133.45 L258.42 133.09 L259.16 132.73 L259.9 132.36 L260.64 131.98 L261.38 131.59 L262.12 131.19 L262.86 130.79 L263.6 130.39 L264.34 129.99 L265.08 129.59 L265.82 129.2 L266.56 128.81 L267.29 128.43 L268.03 128.06 L268.77 127.7 L269.51 127.35 L270.25 126.99 L270.99 126.65 L271.73 126.3 L272.47 125.95 L273.21 125.6 L273.95 125.24 L274.69 124.88 L275.43 124.51 L276.17 124.13 L276.91 123.75 L277.65 123.37 L278.39 122.98 L279.13 122.59 L279.87 122.19 L280.61 121.79 L281.34 121.39 L282.08 120.99 L282.82 120.59 L283.56 120.18 L284.3 119.78 L285.04 119.38 L285.78 118.97 L286.52 118.57 L287.26 118.16 L288 117.74 L288.74 117.32 L289.48 116.89 L290.22 116.46 L290.96 116.01 L291.7 115.55 L292.44 115.09 L293.18 114.62 L293.92 114.13 L294.66 113.65 L295.4 113.15 L296.13 112.65 L296.87 112.14 L297.61 111.62 L298.35 111.11 L299.09 110.58 L299.83 110.04 L300.57 109.48 L301.31 108.92 L302.05 108.36 L302.79 107.79 L303.53 107.22 L304.27 106.66 L305.01 106.1 L305.75 105.55 L306.49 105.01 L307.23 104.49 L307.97 103.98 L308.71 103.48 L309.45 102.97 L310.19 102.46 L310.92 101.94 L311.66 101.41 L312.4 100.85 L313.14 100.27 L313.88 99.66 L314.62 99.02 L315.36 98.35 L316.1 97.65 L316.84 96.92 L317.58 96.17 L318.32 95.4 L319.06 94.61 L319.8 93.8 L320.54 92.98 L321.28 92.14 L322.02 91.3 L322.76 90.45 L323.5 89.58 L324.24 88.69 L324.98 87.77 L325.71 86.83 L326.45 85.85 L327.19 84.83 L327.93 83.77 L328.67 82.66 L329.41 81.49 L330.15 80.23 L330.89 78.91 L331.63 77.52 L332.37 76.09 L333.11 74.62 L333.85 73.13 L334.59 71.62 L335.33 70.11 L336.07 68.6 L336.81 67.15 L337.55 65.76 L338.29 64.4 L339.03 63.01 L339.77 61.55 L340.5 59.99 L340.69 59.57 L340.87 59.15 L341.06 58.72 L341.24 58.27 L341.43 57.82 L341.61 57.35 L341.8 56.86 L341.98 56.36 L342.17 55.85 L342.35 55.32 L342.54 54.78 L342.72 54.22 L342.72 54.22 L342.91 53.61 L343.09 52.92 L343.28 52.16 L343.46 51.36 L343.46 51.36 L343.65 50.51 L343.83 49.63 L344.02 48.73 L344.2 47.83 L344.39 46.93 L344.57 46.06 L344.76 45.21 L344.94 44.41 L345.13 43.64 L345.31 42.87 L345.5 42.1 L345.68 41.34 L345.87 40.59 L346.05 39.84 L346.24 39.09 L346.42 38.35 L346.42 38.35 L346.61 37.62 L346.79 36.89 L346.98 36.17 L347.16 35.45 L347.16 35.45 L347.35 34.74 L347.53 34.03 L347.72 33.33 L347.9 32.64" fill="none" stroke="#111111" stroke-width="1.05" stroke-linejoin="round"/>
<rect x="49.8" y="30.67" width="4.6" height="4.6" fill="#5a5a5a"/>
<rect x="51.43" y="48.65" width="4.6" height="4.6" fill="#5a5a5a"/>
<rect x="53.2" y="61.73" width="4.6" height="4.6" fill="#5a5a5a"/>
<rect x="60.6" y="90.82" width="4.6" height="4.6" fill="#5a5a5a"/>
<rect x="68.29" y="119.59" width="4.6" height="4.6" fill="#5a5a5a"/>
<rect x="75.68" y="137.25" width="4.6" height="4.6" fill="#5a5a5a"/>
<rect x="83.08" y="152.29" width="4.6" height="4.6" fill="#5a5a5a"/>
<rect x="91.21" y="164.38" width="4.6" height="4.6" fill="#5a5a5a"/>
<rect x="98.61" y="172.88" width="4.6" height="4.6" fill="#5a5a5a"/>
<rect x="340.42" y="47.67" width="4.6" height="4.6" fill="#5a5a5a"/>
<rect x="342.64" y="40.15" width="4.6" height="4.6" fill="#5a5a5a"/>
<rect x="345.6" y="30.34" width="4.6" height="4.6" fill="#5a5a5a"/>
<path d="M52.1 29.91 L55.16 32.97 L52.1 36.03 L49.04 32.97 Z" fill="none" stroke="#111111" stroke-width="1.0"/>
<path d="M53.73 47.89 L56.79 50.95 L53.73 54.01 L50.66 50.95 Z" fill="none" stroke="#111111" stroke-width="1.0"/>
<path d="M55.5 60.97 L58.56 64.03 L55.5 67.09 L52.44 64.03 Z" fill="none" stroke="#111111" stroke-width="1.0"/>
<path d="M62.9 90.06 L65.96 93.12 L62.9 96.19 L59.83 93.12 Z" fill="none" stroke="#111111" stroke-width="1.0"/>
<path d="M70.59 118.83 L73.65 121.89 L70.59 124.96 L67.53 121.89 Z" fill="none" stroke="#111111" stroke-width="1.0"/>
<path d="M77.98 136.49 L81.04 139.55 L77.98 142.61 L74.92 139.55 Z" fill="none" stroke="#111111" stroke-width="1.0"/>
<path d="M85.38 151.52 L88.44 154.59 L85.38 157.65 L82.32 154.59 Z" fill="none" stroke="#111111" stroke-width="1.0"/>
<path d="M93.51 163.62 L96.57 166.68 L93.51 169.75 L90.45 166.68 Z" fill="none" stroke="#111111" stroke-width="1.0"/>
<path d="M100.91 172.12 L103.97 175.18 L100.91 178.25 L97.84 175.18 Z" fill="none" stroke="#111111" stroke-width="1.0"/>
<path d="M108.3 182.91 L111.36 185.97 L108.3 189.03 L105.24 185.97 Z" fill="none" stroke="#111111" stroke-width="1.0"/>
<path d="M116.07 192.39 L119.13 195.45 L116.07 198.52 L113 195.45 Z" fill="none" stroke="#111111" stroke-width="1.0"/>
<path d="M123.46 197.95 L126.52 201.01 L123.46 204.07 L120.4 201.01 Z" fill="none" stroke="#111111" stroke-width="1.0"/>
<path d="M131.23 201.54 L134.29 204.61 L131.23 207.67 L128.16 204.61 Z" fill="none" stroke="#111111" stroke-width="1.0"/>
<path d="M138.62 204.16 L141.68 207.22 L138.62 210.28 L135.56 207.22 Z" fill="none" stroke="#111111" stroke-width="1.0"/>
<path d="M146.02 205.47 L149.08 208.53 L146.02 211.59 L142.95 208.53 Z" fill="none" stroke="#111111" stroke-width="1.0"/>
<path d="M153.78 205.47 L156.84 208.53 L153.78 211.59 L150.72 208.53 Z" fill="none" stroke="#111111" stroke-width="1.0"/>
<path d="M161.55 204.16 L164.61 207.22 L161.55 210.28 L158.48 207.22 Z" fill="none" stroke="#111111" stroke-width="1.0"/>
<path d="M168.94 201.54 L172 204.61 L168.94 207.67 L165.88 204.61 Z" fill="none" stroke="#111111" stroke-width="1.0"/>
<path d="M176.71 196.9 L179.77 199.96 L176.71 203.02 L173.64 199.96 Z" fill="none" stroke="#111111" stroke-width="1.0"/>
<path d="M184.47 190.41 L187.53 193.47 L184.47 196.53 L181.41 193.47 Z" fill="none" stroke="#111111" stroke-width="1.0"/>
<path d="M191.5 184.89 L194.56 187.96 L191.5 191.02 L188.43 187.96 Z" fill="none" stroke="#111111" stroke-width="1.0"/>
<path d="M193.34 182.95 L196.41 186.02 L193.34 189.08 L190.28 186.02 Z" fill="none" stroke="#111111" stroke-width="1.0"/>
<path d="M195.19 180.63 L198.26 183.69 L195.19 186.76 L192.13 183.69 Z" fill="none" stroke="#111111" stroke-width="1.0"/>
<path d="M197.04 178.17 L200.1 181.24 L197.04 184.3 L193.98 181.24 Z" fill="none" stroke="#111111" stroke-width="1.0"/>
<path d="M198.89 175.82 L201.95 178.89 L198.89 181.95 L195.83 178.89 Z" fill="none" stroke="#111111" stroke-width="1.0"/>
<path d="M200.74 173.71 L203.8 176.77 L200.74 179.83 L197.68 176.77 Z" fill="none" stroke="#111111" stroke-width="1.0"/>
<path d="M202.59 171.67 L205.65 174.73 L202.59 177.8 L199.53 174.73 Z" fill="none" stroke="#111111" stroke-width="1.0"/>
<path d="M204.44 169.69 L207.5 172.75 L204.44 175.82 L201.37 172.75 Z" fill="none" stroke="#111111" stroke-width="1.0"/>
<path d="M206.29 167.76 L209.35 170.82 L206.29 173.88 L203.22 170.82 Z" fill="none" stroke="#111111" stroke-width="1.0"/>
<path d="M208.13 165.86 L211.2 168.92 L208.13 171.98 L205.07 168.92 Z" fill="none" stroke="#111111" stroke-width="1.0"/>
<path d="M214.79 159.37 L217.85 162.43 L214.79 165.5 L211.73 162.43 Z" fill="none" stroke="#111111" stroke-width="1.0"/>
<path d="M222.18 152.18 L225.25 155.24 L222.18 158.3 L219.12 155.24 Z" fill="none" stroke="#111111" stroke-width="1.0"/>
<path d="M229.58 146.62 L232.64 149.68 L229.58 152.75 L226.52 149.68 Z" fill="none" stroke="#111111" stroke-width="1.0"/>
<path d="M236.97 141.72 L240.04 144.78 L236.97 147.84 L233.91 144.78 Z" fill="none" stroke="#111111" stroke-width="1.0"/>
<path d="M244.37 137.14 L247.43 140.2 L244.37 143.26 L241.31 140.2 Z" fill="none" stroke="#111111" stroke-width="1.0"/>
<path d="M252.13 133.08 L255.2 136.14 L252.13 139.2 L249.07 136.14 Z" fill="none" stroke="#111111" stroke-width="1.0"/>
<path d="M259.9 129.29 L262.96 132.36 L259.9 135.42 L256.84 132.36 Z" fill="none" stroke="#111111" stroke-width="1.0"/>
<path d="M267.29 125.37 L270.36 128.43 L267.29 131.5 L264.23 128.43 Z" fill="none" stroke="#111111" stroke-width="1.0"/>
<path d="M275.06 121.63 L278.12 124.7 L275.06 127.76 L272 124.7 Z" fill="none" stroke="#111111" stroke-width="1.0"/>
<path d="M282.82 117.52 L285.89 120.59 L282.82 123.65 L279.76 120.59 Z" fill="none" stroke="#111111" stroke-width="1.0"/>
<path d="M290.22 113.39 L293.28 116.46 L290.22 119.52 L287.16 116.46 Z" fill="none" stroke="#111111" stroke-width="1.0"/>
<path d="M297.98 108.3 L301.05 111.37 L297.98 114.43 L294.92 111.37 Z" fill="none" stroke="#111111" stroke-width="1.0"/>
<path d="M305.75 102.49 L308.81 105.55 L305.75 108.61 L302.69 105.55 Z" fill="none" stroke="#111111" stroke-width="1.0"/>
<path d="M313.14 97.21 L316.21 100.27 L313.14 103.34 L310.08 100.27 Z" fill="none" stroke="#111111" stroke-width="1.0"/>
<path d="M320.54 89.91 L323.6 92.98 L320.54 96.04 L317.48 92.98 Z" fill="none" stroke="#111111" stroke-width="1.0"/>
<path d="M328.67 79.6 L331.74 82.66 L328.67 85.73 L325.61 82.66 Z" fill="none" stroke="#111111" stroke-width="1.0"/>
<path d="M336.07 65.54 L339.13 68.6 L336.07 71.67 L333.01 68.6 Z" fill="none" stroke="#111111" stroke-width="1.0"/>
<path d="M342.72 51.16 L345.79 54.22 L342.72 57.28 L339.66 54.22 Z" fill="none" stroke="#111111" stroke-width="1.0"/>
<path d="M344.94 41.35 L348 44.41 L344.94 47.47 L341.88 44.41 Z" fill="none" stroke="#111111" stroke-width="1.0"/>
<path d="M347.9 29.58 L350.96 32.64 L347.9 35.71 L344.84 32.64 Z" fill="none" stroke="#111111" stroke-width="1.0"/>
<path d="M52.1 29.53 L55.11 35.34 L49.09 35.34 Z" fill="none" stroke="#111111" stroke-width="1.0"/>
<path d="M53.73 47.51 L56.74 53.32 L50.72 53.32 Z" fill="none" stroke="#111111" stroke-width="1.0"/>
<path d="M55.5 60.59 L58.51 66.39 L52.49 66.39 Z" fill="none" stroke="#111111" stroke-width="1.0"/>
<path d="M62.9 89.68 L65.91 95.49 L59.89 95.49 Z" fill="none" stroke="#111111" stroke-width="1.0"/>
<path d="M70.59 118.45 L73.6 124.26 L67.58 124.26 Z" fill="none" stroke="#111111" stroke-width="1.0"/>
<path d="M77.98 136.11 L80.99 141.91 L74.97 141.91 Z" fill="none" stroke="#111111" stroke-width="1.0"/>
<path d="M85.38 151.15 L88.39 156.95 L82.37 156.95 Z" fill="none" stroke="#111111" stroke-width="1.0"/>
<path d="M93.51 163.24 L96.52 169.05 L90.5 169.05 Z" fill="none" stroke="#111111" stroke-width="1.0"/>
<path d="M100.91 171.74 L103.92 177.55 L97.9 177.55 Z" fill="none" stroke="#111111" stroke-width="1.0"/>
<path d="M108.3 181.22 L111.31 187.03 L105.29 187.03 Z" fill="none" stroke="#111111" stroke-width="1.0"/>
<path d="M116.07 189.7 L119.08 195.51 L113.06 195.51 Z" fill="none" stroke="#111111" stroke-width="1.0"/>
<path d="M123.46 194.63 L126.47 200.43 L120.45 200.43 Z" fill="none" stroke="#111111" stroke-width="1.0"/>
<path d="M131.23 198.22 L134.24 204.03 L128.22 204.03 Z" fill="none" stroke="#111111" stroke-width="1.0"/>
<path d="M138.62 200.19 L141.63 205.99 L135.61 205.99 Z" fill="none" stroke="#111111" stroke-width="1.0"/>
<path d="M146.02 200.84 L149.03 206.65 L143.01 206.65 Z" fill="none" stroke="#111111" stroke-width="1.0"/>
<path d="M153.78 199.77 L156.79 205.58 L150.77 205.58 Z" fill="none" stroke="#111111" stroke-width="1.0"/>
<path d="M161.55 196.93 L164.56 202.74 L158.54 202.74 Z" fill="none" stroke="#111111" stroke-width="1.0"/>
<path d="M168.94 193.11 L171.95 198.92 L165.93 198.92 Z" fill="none" stroke="#111111" stroke-width="1.0"/>
<path d="M176.71 187.71 L179.72 193.52 L173.7 193.52 Z" fill="none" stroke="#111111" stroke-width="1.0"/>
<path d="M184.47 179.75 L187.48 185.55 L181.46 185.55 Z" fill="none" stroke="#111111" stroke-width="1.0"/>
<path d="M191.5 172.19 L194.51 177.99 L188.49 177.99 Z" fill="none" stroke="#111111" stroke-width="1.0"/>
<path d="M193.34 169.71 L196.36 175.52 L190.33 175.52 Z" fill="none" stroke="#111111" stroke-width="1.0"/>
<path d="M195.19 166.7 L198.2 172.5 L192.18 172.5 Z" fill="none" stroke="#111111" stroke-width="1.0"/>
<path d="M197.04 163.36 L200.05 169.16 L194.03 169.16 Z" fill="none" stroke="#111111" stroke-width="1.0"/>
<path d="M198.89 159.96 L201.9 165.77 L195.88 165.77 Z" fill="none" stroke="#111111" stroke-width="1.0"/>
<path d="M200.74 156.74 L203.75 162.55 L197.73 162.55 Z" fill="none" stroke="#111111" stroke-width="1.0"/>
<path d="M202.59 153.49 L205.6 159.3 L199.58 159.3 Z" fill="none" stroke="#111111" stroke-width="1.0"/>
<path d="M204.44 150.27 L207.45 156.08 L201.43 156.08 Z" fill="none" stroke="#111111" stroke-width="1.0"/>
<path d="M206.29 147.25 L209.3 153.05 L203.28 153.05 Z" fill="none" stroke="#111111" stroke-width="1.0"/>
<path d="M208.13 144.56 L211.15 150.36 L205.12 150.36 Z" fill="none" stroke="#111111" stroke-width="1.0"/>
<path d="M214.79 136.43 L217.8 142.24 L211.78 142.24 Z" fill="none" stroke="#111111" stroke-width="1.0"/>
<path d="M222.18 127.93 L225.2 133.74 L219.17 133.74 Z" fill="none" stroke="#111111" stroke-width="1.0"/>
<path d="M229.58 122.27 L232.59 128.08 L226.57 128.08 Z" fill="none" stroke="#111111" stroke-width="1.0"/>
<path d="M236.97 116.68 L239.99 122.48 L233.96 122.48 Z" fill="none" stroke="#111111" stroke-width="1.0"/>
<path d="M244.37 112.04 L247.38 117.85 L241.36 117.85 Z" fill="none" stroke="#111111" stroke-width="1.0"/>
<path d="M252.13 107.22 L255.15 113.02 L249.12 113.02 Z" fill="none" stroke="#111111" stroke-width="1.0"/>
<path d="M259.9 103.41 L262.91 109.22 L256.89 109.22 Z" fill="none" stroke="#111111" stroke-width="1.0"/>
<path d="M267.29 100.15 L270.31 105.95 L264.28 105.95 Z" fill="none" stroke="#111111" stroke-width="1.0"/>
<path d="M275.06 97.35 L278.07 103.16 L272.05 103.16 Z" fill="none" stroke="#111111" stroke-width="1.0"/>
<path d="M282.82 93.61 L285.83 99.41 L279.81 99.41 Z" fill="none" stroke="#111111" stroke-width="1.0"/>
<path d="M290.22 90.66 L293.23 96.47 L287.21 96.47 Z" fill="none" stroke="#111111" stroke-width="1.0"/>
<path d="M297.98 87.54 L300.99 93.34 L294.97 93.34 Z" fill="none" stroke="#111111" stroke-width="1.0"/>
<path d="M305.75 84.78 L308.76 90.59 L302.74 90.59 Z" fill="none" stroke="#111111" stroke-width="1.0"/>
<path d="M313.14 81.18 L316.15 86.99 L310.13 86.99 Z" fill="none" stroke="#111111" stroke-width="1.0"/>
<path d="M320.54 76.93 L323.55 82.74 L317.53 82.74 Z" fill="none" stroke="#111111" stroke-width="1.0"/>
<path d="M328.67 71.38 L331.68 77.18 L325.66 77.18 Z" fill="none" stroke="#111111" stroke-width="1.0"/>
<path d="M336.07 62.22 L339.08 68.03 L333.06 68.03 Z" fill="none" stroke="#111111" stroke-width="1.0"/>
<path d="M342.72 48.16 L345.73 53.97 L339.71 53.97 Z" fill="none" stroke="#111111" stroke-width="1.0"/>
<path d="M344.94 39.66 L347.95 45.47 L341.93 45.47 Z" fill="none" stroke="#111111" stroke-width="1.0"/>
<path d="M347.9 29.2 L350.91 35.01 L344.89 35.01 Z" fill="none" stroke="#111111" stroke-width="1.0"/>
<circle cx="52.1" cy="32.97" r="2.35" fill="none" stroke="#111111" stroke-width="1.0"/>
<circle cx="53.73" cy="50.95" r="2.35" fill="none" stroke="#111111" stroke-width="1.0"/>
<circle cx="55.5" cy="64.03" r="2.35" fill="none" stroke="#111111" stroke-width="1.0"/>
<circle cx="62.9" cy="93.12" r="2.35" fill="none" stroke="#111111" stroke-width="1.0"/>
<circle cx="70.59" cy="121.89" r="2.35" fill="none" stroke="#111111" stroke-width="1.0"/>
<circle cx="77.98" cy="139.55" r="2.35" fill="none" stroke="#111111" stroke-width="1.0"/>
<circle cx="85.38" cy="154.59" r="2.35" fill="none" stroke="#111111" stroke-width="1.0"/>
<circle cx="93.51" cy="166.68" r="2.35" fill="none" stroke="#111111" stroke-width="1.0"/>
<circle cx="100.91" cy="175.18" r="2.35" fill="none" stroke="#111111" stroke-width="1.0"/>
<circle cx="108.3" cy="183.03" r="2.35" fill="none" stroke="#111111" stroke-width="1.0"/>
<circle cx="116.07" cy="190.82" r="2.35" fill="none" stroke="#111111" stroke-width="1.0"/>
<circle cx="123.46" cy="195.13" r="2.35" fill="none" stroke="#111111" stroke-width="1.0"/>
<circle cx="131.23" cy="197.74" r="2.35" fill="none" stroke="#111111" stroke-width="1.0"/>
<circle cx="138.62" cy="199.05" r="2.35" fill="none" stroke="#111111" stroke-width="1.0"/>
<circle cx="146.02" cy="199.05" r="2.35" fill="none" stroke="#111111" stroke-width="1.0"/>
<circle cx="153.78" cy="197.09" r="2.35" fill="none" stroke="#111111" stroke-width="1.0"/>
<circle cx="161.55" cy="193.16" r="2.35" fill="none" stroke="#111111" stroke-width="1.0"/>
<circle cx="168.94" cy="187.61" r="2.35" fill="none" stroke="#111111" stroke-width="1.0"/>
<circle cx="176.71" cy="179.99" r="2.35" fill="none" stroke="#111111" stroke-width="1.0"/>
<circle cx="184.47" cy="169.65" r="2.35" fill="none" stroke="#111111" stroke-width="1.0"/>
<circle cx="191.5" cy="160.27" r="2.35" fill="none" stroke="#111111" stroke-width="1.0"/>
<circle cx="193.34" cy="156.24" r="2.35" fill="none" stroke="#111111" stroke-width="1.0"/>
<circle cx="195.19" cy="151.8" r="2.35" fill="none" stroke="#111111" stroke-width="1.0"/>
<circle cx="197.04" cy="148.15" r="2.35" fill="none" stroke="#111111" stroke-width="1.0"/>
<circle cx="198.89" cy="144.71" r="2.35" fill="none" stroke="#111111" stroke-width="1.0"/>
<circle cx="200.74" cy="141.07" r="2.35" fill="none" stroke="#111111" stroke-width="1.0"/>
<circle cx="202.59" cy="137.28" r="2.35" fill="none" stroke="#111111" stroke-width="1.0"/>
<circle cx="204.44" cy="133.48" r="2.35" fill="none" stroke="#111111" stroke-width="1.0"/>
<circle cx="206.29" cy="129.75" r="2.35" fill="none" stroke="#111111" stroke-width="1.0"/>
<circle cx="208.13" cy="126.67" r="2.35" fill="none" stroke="#111111" stroke-width="1.0"/>
<circle cx="214.79" cy="117.21" r="2.35" fill="none" stroke="#111111" stroke-width="1.0"/>
<circle cx="222.18" cy="107.13" r="2.35" fill="none" stroke="#111111" stroke-width="1.0"/>
<circle cx="229.58" cy="101.62" r="2.35" fill="none" stroke="#111111" stroke-width="1.0"/>
<circle cx="236.97" cy="96.39" r="2.35" fill="none" stroke="#111111" stroke-width="1.0"/>
<circle cx="244.37" cy="92.14" r="2.35" fill="none" stroke="#111111" stroke-width="1.0"/>
<circle cx="252.13" cy="88.06" r="2.35" fill="none" stroke="#111111" stroke-width="1.0"/>
<circle cx="259.9" cy="85.28" r="2.35" fill="none" stroke="#111111" stroke-width="1.0"/>
<circle cx="267.29" cy="82.66" r="2.35" fill="none" stroke="#111111" stroke-width="1.0"/>
<circle cx="275.06" cy="80.62" r="2.35" fill="none" stroke="#111111" stroke-width="1.0"/>
<circle cx="282.82" cy="79.07" r="2.35" fill="none" stroke="#111111" stroke-width="1.0"/>
<circle cx="290.22" cy="77.76" r="2.35" fill="none" stroke="#111111" stroke-width="1.0"/>
<circle cx="297.98" cy="76.39" r="2.35" fill="none" stroke="#111111" stroke-width="1.0"/>
<circle cx="305.75" cy="75.14" r="2.35" fill="none" stroke="#111111" stroke-width="1.0"/>
<circle cx="313.14" cy="73.51" r="2.35" fill="none" stroke="#111111" stroke-width="1.0"/>
<circle cx="320.54" cy="70.89" r="2.35" fill="none" stroke="#111111" stroke-width="1.0"/>
<circle cx="328.67" cy="67.3" r="2.35" fill="none" stroke="#111111" stroke-width="1.0"/>
<circle cx="336.07" cy="60.43" r="2.35" fill="none" stroke="#111111" stroke-width="1.0"/>
<circle cx="342.72" cy="49.97" r="2.35" fill="none" stroke="#111111" stroke-width="1.0"/>
<circle cx="344.94" cy="42.45" r="2.35" fill="none" stroke="#111111" stroke-width="1.0"/>
<circle cx="347.9" cy="32.64" r="2.35" fill="none" stroke="#111111" stroke-width="1.0"/>
<rect x="49.89" y="30.76" width="4.42" height="4.42" fill="none" stroke="#111111" stroke-width="1.0"/>
<rect x="51.52" y="48.74" width="4.42" height="4.42" fill="none" stroke="#111111" stroke-width="1.0"/>
<rect x="53.29" y="61.82" width="4.42" height="4.42" fill="none" stroke="#111111" stroke-width="1.0"/>
<rect x="60.69" y="90.92" width="4.42" height="4.42" fill="none" stroke="#111111" stroke-width="1.0"/>
<rect x="68.38" y="119.69" width="4.42" height="4.42" fill="none" stroke="#111111" stroke-width="1.0"/>
<rect x="75.77" y="137.34" width="4.42" height="4.42" fill="none" stroke="#111111" stroke-width="1.0"/>
<rect x="83.17" y="152.38" width="4.42" height="4.42" fill="none" stroke="#111111" stroke-width="1.0"/>
<rect x="91.3" y="164.48" width="4.42" height="4.42" fill="none" stroke="#111111" stroke-width="1.0"/>
<rect x="98.7" y="172.98" width="4.42" height="4.42" fill="none" stroke="#111111" stroke-width="1.0"/>
<rect x="106.09" y="179.71" width="4.42" height="4.42" fill="none" stroke="#111111" stroke-width="1.0"/>
<rect x="113.86" y="186.38" width="4.42" height="4.42" fill="none" stroke="#111111" stroke-width="1.0"/>
<rect x="121.25" y="189.98" width="4.42" height="4.42" fill="none" stroke="#111111" stroke-width="1.0"/>
<rect x="129.02" y="191.92" width="4.42" height="4.42" fill="none" stroke="#111111" stroke-width="1.0"/>
<rect x="136.41" y="192.26" width="4.42" height="4.42" fill="none" stroke="#111111" stroke-width="1.0"/>
<rect x="143.81" y="191.96" width="4.42" height="4.42" fill="none" stroke="#111111" stroke-width="1.0"/>
<rect x="151.57" y="189.38" width="4.42" height="4.42" fill="none" stroke="#111111" stroke-width="1.0"/>
<rect x="159.34" y="185.64" width="4.42" height="4.42" fill="none" stroke="#111111" stroke-width="1.0"/>
<rect x="166.73" y="180.37" width="4.42" height="4.42" fill="none" stroke="#111111" stroke-width="1.0"/>
<rect x="174.5" y="172.74" width="4.42" height="4.42" fill="none" stroke="#111111" stroke-width="1.0"/>
<rect x="182.26" y="159.35" width="4.42" height="4.42" fill="none" stroke="#111111" stroke-width="1.0"/>
<rect x="189.29" y="145.13" width="4.42" height="4.42" fill="none" stroke="#111111" stroke-width="1.0"/>
<rect x="191.14" y="140.57" width="4.42" height="4.42" fill="none" stroke="#111111" stroke-width="1.0"/>
<rect x="192.99" y="136.08" width="4.42" height="4.42" fill="none" stroke="#111111" stroke-width="1.0"/>
<rect x="194.83" y="131.72" width="4.42" height="4.42" fill="none" stroke="#111111" stroke-width="1.0"/>
<rect x="196.68" y="127.41" width="4.42" height="4.42" fill="none" stroke="#111111" stroke-width="1.0"/>
<rect x="198.53" y="123.04" width="4.42" height="4.42" fill="none" stroke="#111111" stroke-width="1.0"/>
<rect x="200.38" y="118.82" width="4.42" height="4.42" fill="none" stroke="#111111" stroke-width="1.0"/>
<rect x="202.23" y="115.2" width="4.42" height="4.42" fill="none" stroke="#111111" stroke-width="1.0"/>
<rect x="204.08" y="111.93" width="4.42" height="4.42" fill="none" stroke="#111111" stroke-width="1.0"/>
<rect x="205.93" y="108.77" width="4.42" height="4.42" fill="none" stroke="#111111" stroke-width="1.0"/>
<rect x="212.58" y="98.34" width="4.42" height="4.42" fill="none" stroke="#111111" stroke-width="1.0"/>
<rect x="219.98" y="88.63" width="4.42" height="4.42" fill="none" stroke="#111111" stroke-width="1.0"/>
<rect x="227.37" y="82.09" width="4.42" height="4.42" fill="none" stroke="#111111" stroke-width="1.0"/>
<rect x="234.77" y="77.51" width="4.42" height="4.42" fill="none" stroke="#111111" stroke-width="1.0"/>
<rect x="242.16" y="74.24" width="4.42" height="4.42" fill="none" stroke="#111111" stroke-width="1.0"/>
<rect x="249.93" y="72.05" width="4.42" height="4.42" fill="none" stroke="#111111" stroke-width="1.0"/>
<rect x="257.69" y="69.99" width="4.42" height="4.42" fill="none" stroke="#111111" stroke-width="1.0"/>
<rect x="265.09" y="69.01" width="4.42" height="4.42" fill="none" stroke="#111111" stroke-width="1.0"/>
<rect x="272.85" y="67.98" width="4.42" height="4.42" fill="none" stroke="#111111" stroke-width="1.0"/>
<rect x="280.62" y="67.05" width="4.42" height="4.42" fill="none" stroke="#111111" stroke-width="1.0"/>
<rect x="288.01" y="66.4" width="4.42" height="4.42" fill="none" stroke="#111111" stroke-width="1.0"/>
<rect x="295.78" y="65.71" width="4.42" height="4.42" fill="none" stroke="#111111" stroke-width="1.0"/>
<rect x="303.54" y="65.09" width="4.42" height="4.42" fill="none" stroke="#111111" stroke-width="1.0"/>
<rect x="310.94" y="64.44" width="4.42" height="4.42" fill="none" stroke="#111111" stroke-width="1.0"/>
<rect x="318.33" y="63.13" width="4.42" height="4.42" fill="none" stroke="#111111" stroke-width="1.0"/>
<rect x="326.46" y="60.51" width="4.42" height="4.42" fill="none" stroke="#111111" stroke-width="1.0"/>
<rect x="333.86" y="55.28" width="4.42" height="4.42" fill="none" stroke="#111111" stroke-width="1.0"/>
<rect x="340.52" y="47.76" width="4.42" height="4.42" fill="none" stroke="#111111" stroke-width="1.0"/>
<rect x="342.73" y="40.24" width="4.42" height="4.42" fill="none" stroke="#111111" stroke-width="1.0"/>
<rect x="345.69" y="30.43" width="4.42" height="4.42" fill="none" stroke="#111111" stroke-width="1.0"/>
<path d="M426.1 22.41 L426.28 24.97 L426.46 27.45 L426.64 29.82 L426.83 32.05 L427.01 34.11 L427.19 35.96 L427.37 37.57 L427.55 38.97 L427.73 40.26 L427.92 41.46 L428.1 42.58 L428.28 43.63 L428.46 44.62 L428.64 45.55 L428.82 46.45 L429.01 47.32 L429.19 48.17 L429.37 49.02 L429.55 49.86 L429.73 50.68 L429.91 51.48 L430.1 52.28 L430.28 53.06 L430.46 53.82 L430.64 54.58 L430.82 55.32 L431 56.05 L431.19 56.76 L431.37 57.47 L431.55 58.17 L431.73 58.86 L431.91 59.54 L432.09 60.21 L432.28 60.87 L432.46 61.52 L432.64 62.17 L432.82 62.81 L433 63.45 L433.18 64.08 L433.37 64.7 L434.09 67.16 L434.82 69.57 L435.54 71.97 L436.27 74.4 L437 76.87 L437.72 79.36 L438.45 81.84 L439.18 84.3 L439.9 86.74 L440.63 89.12 L441.36 91.46 L442.08 93.72 L442.81 95.9 L443.54 97.98 L444.26 99.95 L444.99 101.82 L445.72 103.6 L446.44 105.32 L447.17 106.98 L447.9 108.59 L448.62 110.16 L449.35 111.7 L450.07 113.22 L450.8 114.74 L451.53 116.26 L452.25 117.78 L452.98 119.3 L453.71 120.81 L454.43 122.31 L455.16 123.78 L455.89 125.22 L456.61 126.62 L457.34 127.99 L458.07 129.3 L458.79 130.56 L459.52 131.78 L460.25 132.96 L460.97 134.1 L461.7 135.21 L462.43 136.3 L463.15 137.36 L463.88 138.4 L464.6 139.42 L465.33 140.43 L466.06 141.42 L466.78 142.4 L467.51 143.37 L468.24 144.33 L468.96 145.28 L469.69 146.21 L470.42 147.12 L471.14 148.01 L471.87 148.88 L472.6 149.72 L473.32 150.53 L474.05 151.32 L474.78 152.08 L475.5 152.83 L476.23 153.55 L476.96 154.25 L477.68 154.94 L478.41 155.61 L479.13 156.26 L479.86 156.89 L480.59 157.5 L481.31 158.1 L482.04 158.69 L482.77 159.27 L483.49 159.84 L484.22 160.39 L484.95 160.92 L485.67 161.44 L486.4 161.95 L487.13 162.44 L487.85 162.91 L488.58 163.36 L489.31 163.8 L490.03 164.21 L490.76 164.62 L491.49 165.01 L492.21 165.39 L492.94 165.77 L493.66 166.14 L494.39 166.5 L495.12 166.86 L495.84 167.22 L496.57 167.59 L497.3 167.96 L498.02 168.32 L498.75 168.68 L499.48 169.04 L500.2 169.38 L500.93 169.71 L501.66 170.03 L502.38 170.34 L503.11 170.62 L503.84 170.89 L504.56 171.16 L505.29 171.41 L506.02 171.66 L506.74 171.9 L507.47 172.12 L508.19 172.34 L508.92 172.54 L509.65 172.73 L510.37 172.91 L511.1 173.08 L511.83 173.25 L512.55 173.42 L513.28 173.59 L514.01 173.75 L514.73 173.89 L515.46 174.02 L516.19 174.14 L516.91 174.24 L517.64 174.31 L518.37 174.36 L519.09 174.4 L519.82 174.45 L520.55 174.49 L521.27 174.52 L522 174.55 L522.72 174.58 L523.45 174.6 L524.18 174.62 L524.9 174.63 L525.63 174.63 L526.36 174.61 L527.08 174.57 L527.81 174.51 L528.54 174.44 L529.26 174.35 L529.99 174.24 L530.72 174.13 L531.44 174.01 L532.17 173.89 L532.9 173.77 L533.62 173.63 L534.35 173.46 L535.08 173.26 L535.8 173.04 L536.53 172.8 L537.25 172.55 L537.98 172.28 L538.71 172.02 L539.43 171.75 L540.16 171.48 L540.89 171.22 L541.61 170.95 L542.34 170.67 L543.07 170.39 L543.79 170.1 L544.52 169.8 L545.25 169.48 L545.97 169.15 L546.7 168.8 L547.43 168.43 L548.15 168.05 L548.88 167.63 L549.61 167.16 L550.33 166.66 L551.06 166.13 L551.78 165.57 L552.51 165 L553.24 164.41 L553.96 163.81 L554.69 163.21 L555.42 162.61 L556.14 162 L556.87 161.38 L557.6 160.74 L558.32 160.09 L559.05 159.42 L559.78 158.75 L560.5 158.07 L561.23 157.39 L561.96 156.71 L562.68 156.03 L563.41 155.35 L564.13 154.65 L564.86 153.95 L565.59 153.25 L566.31 152.54 L567.04 151.82 L567.77 151.11 L568.49 150.4 L569.22 149.7 L569.95 149 L570.67 148.3 L571.4 147.62 L572.13 146.93 L572.85 146.25 L573.58 145.57 L574.31 144.89 L575.03 144.22 L575.76 143.54 L576.49 142.87 L577.21 142.2 L577.94 141.53 L578.66 140.86 L579.39 140.2 L580.12 139.53 L580.84 138.86 L581.57 138.19 L582.3 137.53 L583.02 136.86 L583.75 136.21 L584.48 135.56 L585.2 134.92 L585.93 134.28 L586.66 133.66 L587.38 133.03 L588.11 132.4 L588.84 131.78 L589.56 131.17 L590.29 130.56 L591.02 129.97 L591.74 129.39 L592.47 128.82 L593.2 128.28 L593.92 127.74 L594.65 127.22 L595.37 126.71 L596.1 126.22 L596.83 125.73 L597.55 125.25 L598.28 124.78 L599.01 124.31 L599.73 123.86 L600.46 123.41 L601.19 122.97 L601.91 122.54 L602.64 122.12 L603.37 121.7 L604.09 121.29 L604.82 120.88 L605.55 120.49 L606.27 120.09 L607 119.7 L607.73 119.31 L608.45 118.93 L609.18 118.55 L609.9 118.17 L610.63 117.8 L611.36 117.43 L612.08 117.07 L612.81 116.71 L613.54 116.35 L614.26 116 L614.99 115.64 L615.72 115.3 L616.44 114.95 L617.17 114.61 L617.9 114.28 L618.62 113.95 L619.35 113.62 L620.08 113.29 L620.8 112.96 L621.53 112.63 L622.26 112.3 L622.98 111.97 L623.71 111.63 L624.43 111.29 L625.16 110.94 L625.89 110.6 L626.61 110.26 L627.34 109.91 L628.07 109.57 L628.79 109.22 L629.52 108.88 L630.25 108.53 L630.97 108.19 L631.7 107.84 L632.43 107.49 L633.15 107.15 L633.88 106.8 L634.61 106.45 L635.33 106.11 L636.06 105.77 L636.79 105.43 L637.51 105.1 L638.24 104.77 L638.96 104.46 L639.69 104.14 L640.42 103.83 L641.14 103.52 L641.87 103.21 L642.6 102.9 L643.32 102.59 L644.05 102.27 L644.78 101.95 L645.5 101.63 L646.23 101.3 L646.96 100.97 L647.68 100.63 L648.41 100.3 L649.14 99.96 L649.86 99.62 L650.59 99.28 L651.32 98.93 L652.04 98.58 L652.77 98.23 L653.49 97.88 L654.22 97.52 L654.95 97.16 L655.67 96.8 L656.4 96.43 L657.13 96.06 L657.85 95.68 L658.58 95.3 L659.31 94.91 L660.03 94.51 L660.76 94.11 L661.49 93.7 L662.21 93.29 L662.94 92.87 L663.67 92.44 L664.39 92.01 L665.12 91.57 L665.85 91.12 L666.57 90.67 L667.3 90.22 L668.02 89.76 L668.75 89.29 L669.48 88.81 L670.2 88.32 L670.93 87.83 L671.66 87.34 L672.38 86.84 L673.11 86.34 L673.84 85.85 L674.56 85.36 L675.29 84.87 L676.02 84.39 L676.74 83.92 L677.47 83.44 L678.2 82.97 L678.92 82.49 L679.65 82 L680.38 81.5 L681.1 80.99 L681.83 80.46 L682.55 79.92 L683.28 79.36 L684.01 78.78 L684.73 78.19 L685.46 77.58 L686.19 76.96 L686.91 76.32 L687.64 75.67 L688.37 75.01 L689.09 74.32 L689.82 73.63 L690.55 72.91 L691.27 72.19 L692 71.45 L692.73 70.69 L693.45 69.91 L694.18 69.11 L694.9 68.28 L695.63 67.42 L696.36 66.54 L697.08 65.61 L697.81 64.64 L698.54 63.6 L699.26 62.51 L699.99 61.37 L700.72 60.2 L701.44 59 L702.17 57.79 L702.9 56.58 L703.62 55.37 L704.35 54.19 L705.08 53.02 L705.8 51.94 L706.53 50.95 L707.26 50.01 L707.98 49.09 L708.71 48.14 L709.44 47.12 L709.62 46.85 L709.8 46.57 L709.98 46.29 L710.16 46 L710.34 45.69 L710.52 45.38 L710.71 45.06 L710.89 44.72 L711.07 44.38 L711.25 44.02 L711.43 43.65 L711.61 43.27 L711.61 43.27 L711.8 42.87 L711.98 42.45 L712.16 42.02 L712.34 41.58 L712.34 41.58 L712.52 41.08 L712.7 40.49 L712.89 39.83 L713.07 39.11 L713.25 38.33 L713.43 37.52 L713.61 36.67 L713.79 35.81 L713.98 34.94 L714.16 34.08 L714.34 33.24 L714.52 32.42 L714.7 31.62 L714.88 30.82 L715.07 30 L715.25 29.18 L715.25 29.18 L715.43 28.36 L715.61 27.53 L715.79 26.69 L715.97 25.84 L715.97 25.84 L716.16 24.99 L716.34 24.14 L716.52 23.28 L716.7 22.41" fill="none" stroke="#111111" stroke-width="1.05" stroke-linejoin="round"/>
<path d="M426.1 22.41 L426.28 24.97 L426.46 27.45 L426.64 29.82 L426.83 32.05 L427.01 34.11 L427.19 35.96 L427.37 37.57 L427.55 38.97 L427.73 40.26 L427.92 41.46 L428.1 42.58 L428.28 43.63 L428.46 44.62 L428.64 45.55 L428.82 46.45 L429.01 47.32 L429.19 48.17 L429.37 49.02 L429.55 49.86 L429.73 50.68 L429.91 51.48 L430.1 52.28 L430.28 53.06 L430.46 53.82 L430.64 54.58 L430.82 55.32 L431 56.05 L431.19 56.76 L431.37 57.47 L431.55 58.17 L431.73 58.86 L431.91 59.54 L432.09 60.21 L432.28 60.87 L432.46 61.52 L432.64 62.17 L432.82 62.81 L433 63.45 L433.18 64.08 L433.37 64.7 L434.09 67.16 L434.82 69.57 L435.54 71.97 L436.27 74.4 L437 76.87 L437.72 79.36 L438.45 81.84 L439.18 84.3 L439.9 86.74 L440.63 89.12 L441.36 91.46 L442.08 93.72 L442.81 95.9 L443.54 97.98 L444.26 99.95 L444.99 101.82 L445.72 103.6 L446.44 105.32 L447.17 106.98 L447.9 108.59 L448.62 110.16 L449.35 111.7 L450.07 113.22 L450.8 114.74 L451.53 116.26 L452.25 117.78 L452.98 119.3 L453.71 120.81 L454.43 122.31 L455.16 123.78 L455.89 125.22 L456.61 126.62 L457.34 127.99 L458.07 129.3 L458.79 130.56 L459.52 131.78 L460.25 132.96 L460.97 134.1 L461.7 135.21 L462.43 136.3 L463.15 137.36 L463.88 138.4 L464.6 139.42 L465.33 140.43 L466.06 141.42 L466.78 142.4 L467.51 143.36 L468.24 144.3 L468.96 145.22 L469.69 146.13 L470.42 147.02 L471.14 147.9 L471.87 148.77 L472.6 149.63 L473.32 150.49 L474.05 151.34 L474.78 152.18 L475.5 153.03 L476.23 153.86 L476.96 154.69 L477.68 155.51 L478.41 156.31 L479.13 157.1 L479.86 157.86 L480.59 158.6 L481.31 159.32 L482.04 160.02 L482.77 160.71 L483.49 161.39 L484.22 162.05 L484.95 162.7 L485.67 163.33 L486.4 163.95 L487.13 164.55 L487.85 165.13 L488.58 165.7 L489.31 166.25 L490.03 166.79 L490.76 167.31 L491.49 167.83 L492.21 168.33 L492.94 168.82 L493.66 169.3 L494.39 169.76 L495.12 170.22 L495.84 170.67 L496.57 171.1 L497.3 171.54 L498.02 171.96 L498.75 172.38 L499.48 172.78 L500.2 173.18 L500.93 173.56 L501.66 173.93 L502.38 174.29 L503.11 174.63 L503.84 174.96 L504.56 175.28 L505.29 175.6 L506.02 175.91 L506.74 176.21 L507.47 176.5 L508.19 176.78 L508.92 177.03 L509.65 177.27 L510.37 177.49 L511.1 177.69 L511.83 177.88 L512.55 178.06 L513.28 178.23 L514.01 178.4 L514.73 178.56 L515.46 178.71 L516.19 178.85 L516.91 178.99 L517.64 179.13 L518.37 179.26 L519.09 179.4 L519.82 179.55 L520.55 179.7 L521.27 179.85 L522 179.99 L522.72 180.11 L523.45 180.21 L524.18 180.29 L524.9 180.34 L525.63 180.35 L526.36 180.35 L527.08 180.35 L527.81 180.35 L528.54 180.35 L529.26 180.35 L529.99 180.35 L530.72 180.35 L531.44 180.35 L532.17 180.35 L532.9 180.35 L533.62 180.34 L534.35 180.3 L535.08 180.24 L535.8 180.16 L536.53 180.07 L537.25 179.96 L537.98 179.85 L538.71 179.73 L539.43 179.61 L540.16 179.49 L540.89 179.37 L541.61 179.24 L542.34 179.09 L543.07 178.94 L543.79 178.77 L544.52 178.58 L545.25 178.39 L545.97 178.19 L546.7 177.97 L547.43 177.73 L548.15 177.49 L548.88 177.21 L549.61 176.89 L550.33 176.54 L551.06 176.15 L551.78 175.73 L552.51 175.3 L553.24 174.85 L553.96 174.4 L554.69 173.94 L555.42 173.48 L556.14 173.02 L556.87 172.52 L557.6 172.01 L558.32 171.48 L559.05 170.94 L559.78 170.4 L560.5 169.86 L561.23 169.33 L561.96 168.82 L562.68 168.33 L563.41 167.86 L564.13 167.4 L564.86 166.94 L565.59 166.5 L566.31 166.05 L567.04 165.62 L567.77 165.18 L568.49 164.75 L569.22 164.33 L569.95 163.9 L570.67 163.47 L571.4 163.04 L572.13 162.63 L572.85 162.21 L573.58 161.8 L574.31 161.39 L575.03 160.99 L575.76 160.58 L576.49 160.16 L577.21 159.75 L577.94 159.32 L578.66 158.89 L579.39 158.45 L580.12 158 L580.84 157.54 L581.57 157.08 L582.3 156.61 L583.02 156.14 L583.75 155.68 L584.48 155.22 L585.2 154.76 L585.93 154.31 L586.66 153.87 L587.38 153.42 L588.11 152.97 L588.84 152.53 L589.56 152.09 L590.29 151.66 L591.02 151.23 L591.74 150.81 L592.47 150.41 L593.2 150.02 L593.92 149.64 L594.65 149.28 L595.37 148.92 L596.1 148.57 L596.83 148.23 L597.55 147.89 L598.28 147.56 L599.01 147.23 L599.73 146.91 L600.46 146.59 L601.19 146.27 L601.91 145.97 L602.64 145.67 L603.37 145.37 L604.09 145.08 L604.82 144.79 L605.55 144.5 L606.27 144.21 L607 143.91 L607.73 143.6 L608.45 143.28 L609.18 142.96 L609.9 142.64 L610.63 142.31 L611.36 141.98 L612.08 141.64 L612.81 141.3 L613.54 140.96 L614.26 140.61 L614.99 140.26 L615.72 139.9 L616.44 139.53 L617.17 139.15 L617.9 138.77 L618.62 138.38 L619.35 137.99 L620.08 137.59 L620.8 137.19 L621.53 136.79 L622.26 136.4 L622.98 136 L623.71 135.6 L624.43 135.2 L625.16 134.8 L625.89 134.39 L626.61 133.99 L627.34 133.58 L628.07 133.18 L628.79 132.78 L629.52 132.38 L630.25 132 L630.97 131.61 L631.7 131.24 L632.43 130.87 L633.15 130.5 L633.88 130.14 L634.61 129.77 L635.33 129.4 L636.06 129.03 L636.79 128.66 L637.51 128.28 L638.24 127.89 L638.96 127.5 L639.69 127.1 L640.42 126.7 L641.14 126.3 L641.87 125.9 L642.6 125.49 L643.32 125.09 L644.05 124.68 L644.78 124.27 L645.5 123.86 L646.23 123.45 L646.96 123.04 L647.68 122.62 L648.41 122.21 L649.14 121.79 L649.86 121.37 L650.59 120.96 L651.32 120.54 L652.04 120.11 L652.77 119.69 L653.49 119.27 L654.22 118.86 L654.95 118.45 L655.67 118.03 L656.4 117.62 L657.13 117.2 L657.85 116.77 L658.58 116.32 L659.31 115.87 L660.03 115.4 L660.76 114.91 L661.49 114.41 L662.21 113.9 L662.94 113.38 L663.67 112.84 L664.39 112.29 L665.12 111.73 L665.85 111.15 L666.57 110.56 L667.3 109.96 L668.02 109.34 L668.75 108.7 L669.48 108.03 L670.2 107.35 L670.93 106.65 L671.66 105.95 L672.38 105.24 L673.11 104.52 L673.84 103.81 L674.56 103.1 L675.29 102.39 L676.02 101.69 L676.74 101 L677.47 100.3 L678.2 99.59 L678.92 98.88 L679.65 98.16 L680.38 97.42 L681.1 96.66 L681.83 95.88 L682.55 95.08 L683.28 94.26 L684.01 93.41 L684.73 92.54 L685.46 91.65 L686.19 90.73 L686.91 89.8 L687.64 88.86 L688.37 87.89 L689.09 86.92 L689.82 85.93 L690.55 84.93 L691.27 83.92 L692 82.89 L692.73 81.84 L693.45 80.78 L694.18 79.69 L694.9 78.57 L695.63 77.43 L696.36 76.26 L697.08 75.06 L697.81 73.82 L698.54 72.55 L699.26 71.26 L699.99 69.94 L700.72 68.58 L701.44 67.19 L702.17 65.77 L702.9 64.32 L703.62 62.84 L704.35 61.32 L705.08 59.76 L705.8 58.17 L706.53 56.57 L707.26 54.97 L707.98 53.33 L708.71 51.64 L709.44 49.87 L709.62 49.42 L709.8 48.95 L709.98 48.48 L710.16 48.01 L710.34 47.52 L710.52 47.03 L710.71 46.53 L710.89 46.02 L711.07 45.5 L711.25 44.97 L711.43 44.43 L711.61 43.88 L711.61 43.88 L711.8 43.32 L711.98 42.75 L712.16 42.17 L712.34 41.58 L712.34 41.58 L712.52 40.96 L712.7 40.29 L712.89 39.59 L713.07 38.85 L713.25 38.08 L713.43 37.3 L713.61 36.5 L713.79 35.68 L713.98 34.86 L714.16 34.04 L714.34 33.23 L714.52 32.42 L714.7 31.62 L714.88 30.82 L715.07 30 L715.25 29.18 L715.25 29.18 L715.43 28.36 L715.61 27.53 L715.79 26.69 L715.97 25.84 L715.97 25.84 L716.16 24.99 L716.34 24.14 L716.52 23.28 L716.7 22.41" fill="none" stroke="#111111" stroke-width="1.05" stroke-linejoin="round"/>
<path d="M426.1 22.41 L426.28 24.97 L426.46 27.45 L426.64 29.82 L426.83 32.05 L427.01 34.11 L427.19 35.96 L427.37 37.57 L427.55 38.97 L427.73 40.26 L427.92 41.46 L428.1 42.58 L428.28 43.63 L428.46 44.62 L428.64 45.55 L428.82 46.45 L429.01 47.32 L429.19 48.17 L429.37 49.02 L429.55 49.86 L429.73 50.68 L429.91 51.48 L430.1 52.28 L430.28 53.06 L430.46 53.82 L430.64 54.58 L430.82 55.32 L431 56.05 L431.19 56.76 L431.37 57.47 L431.55 58.17 L431.73 58.86 L431.91 59.54 L432.09 60.21 L432.28 60.87 L432.46 61.52 L432.64 62.17 L432.82 62.81 L433 63.45 L433.18 64.08 L433.37 64.7 L434.09 67.16 L434.82 69.57 L435.54 71.97 L436.27 74.4 L437 76.87 L437.72 79.36 L438.45 81.84 L439.18 84.3 L439.9 86.74 L440.63 89.12 L441.36 91.46 L442.08 93.72 L442.81 95.9 L443.54 97.98 L444.26 99.95 L444.99 101.82 L445.72 103.6 L446.44 105.32 L447.17 106.98 L447.9 108.59 L448.62 110.16 L449.35 111.7 L450.07 113.22 L450.8 114.74 L451.53 116.26 L452.25 117.78 L452.98 119.3 L453.71 120.81 L454.43 122.31 L455.16 123.78 L455.89 125.22 L456.61 126.62 L457.34 127.99 L458.07 129.3 L458.79 130.56 L459.52 131.78 L460.25 132.96 L460.97 134.1 L461.7 135.21 L462.43 136.3 L463.15 137.36 L463.88 138.4 L464.6 139.42 L465.33 140.43 L466.06 141.42 L466.78 142.4 L467.51 143.34 L468.24 144.26 L468.96 145.15 L469.69 146.02 L470.42 146.89 L471.14 147.76 L471.87 148.63 L472.6 149.51 L473.32 150.42 L474.05 151.36 L474.78 152.34 L475.5 153.36 L476.23 154.4 L476.96 155.46 L477.68 156.51 L478.41 157.53 L479.13 158.52 L479.86 159.46 L480.59 160.32 L481.31 161.13 L482.04 161.9 L482.77 162.65 L483.49 163.37 L484.22 164.07 L484.95 164.74 L485.67 165.41 L486.4 166.07 L487.13 166.72 L487.85 167.37 L488.58 168.02 L489.31 168.67 L490.03 169.32 L490.76 169.96 L491.49 170.59 L492.21 171.21 L492.94 171.82 L493.66 172.42 L494.39 173 L495.12 173.56 L495.84 174.11 L496.57 174.64 L497.3 175.16 L498.02 175.67 L498.75 176.16 L499.48 176.65 L500.2 177.12 L500.93 177.58 L501.66 178.04 L502.38 178.48 L503.11 178.92 L503.84 179.35 L504.56 179.77 L505.29 180.19 L506.02 180.6 L506.74 181 L507.47 181.39 L508.19 181.77 L508.92 182.15 L509.65 182.51 L510.37 182.87 L511.1 183.21 L511.83 183.55 L512.55 183.89 L513.28 184.22 L514.01 184.55 L514.73 184.88 L515.46 185.19 L516.19 185.49 L516.91 185.78 L517.64 186.05 L518.37 186.3 L519.09 186.54 L519.82 186.75 L520.55 186.96 L521.27 187.17 L522 187.38 L522.72 187.58 L523.45 187.76 L524.18 187.93 L524.9 188.08 L525.63 188.2 L526.36 188.3 L527.08 188.36 L527.81 188.41 L528.54 188.45 L529.26 188.49 L529.99 188.53 L530.72 188.57 L531.44 188.59 L532.17 188.62 L532.9 188.63 L533.62 188.64 L534.35 188.65 L535.08 188.64 L535.8 188.63 L536.53 188.61 L537.25 188.59 L537.98 188.56 L538.71 188.52 L539.43 188.49 L540.16 188.45 L540.89 188.4 L541.61 188.36 L542.34 188.32 L543.07 188.26 L543.79 188.2 L544.52 188.13 L545.25 188.05 L545.97 187.97 L546.7 187.88 L547.43 187.78 L548.15 187.67 L548.88 187.56 L549.61 187.44 L550.33 187.29 L551.06 187.1 L551.78 186.89 L552.51 186.67 L553.24 186.43 L553.96 186.18 L554.69 185.93 L555.42 185.68 L556.14 185.44 L556.87 185.21 L557.6 185 L558.32 184.78 L559.05 184.56 L559.78 184.34 L560.5 184.12 L561.23 183.91 L561.96 183.7 L562.68 183.5 L563.41 183.3 L564.13 183.11 L564.86 182.93 L565.59 182.75 L566.31 182.57 L567.04 182.4 L567.77 182.22 L568.49 182.04 L569.22 181.86 L569.95 181.68 L570.67 181.49 L571.4 181.31 L572.13 181.12 L572.85 180.94 L573.58 180.76 L574.31 180.58 L575.03 180.39 L575.76 180.2 L576.49 180 L577.21 179.79 L577.94 179.56 L578.66 179.33 L579.39 179.08 L580.12 178.79 L580.84 178.48 L581.57 178.14 L582.3 177.79 L583.02 177.43 L583.75 177.07 L584.48 176.72 L585.2 176.38 L585.93 176.06 L586.66 175.76 L587.38 175.46 L588.11 175.18 L588.84 174.9 L589.56 174.62 L590.29 174.34 L591.02 174.06 L591.74 173.78 L592.47 173.49 L593.2 173.2 L593.92 172.89 L594.65 172.58 L595.37 172.26 L596.1 171.94 L596.83 171.61 L597.55 171.29 L598.28 170.97 L599.01 170.66 L599.73 170.35 L600.46 170.05 L601.19 169.76 L601.91 169.48 L602.64 169.2 L603.37 168.92 L604.09 168.65 L604.82 168.38 L605.55 168.11 L606.27 167.85 L607 167.58 L607.73 167.32 L608.45 167.06 L609.18 166.8 L609.9 166.55 L610.63 166.31 L611.36 166.07 L612.08 165.82 L612.81 165.58 L613.54 165.32 L614.26 165.07 L614.99 164.8 L615.72 164.53 L616.44 164.25 L617.17 163.95 L617.9 163.65 L618.62 163.35 L619.35 163.03 L620.08 162.72 L620.8 162.41 L621.53 162.09 L622.26 161.78 L622.98 161.47 L623.71 161.16 L624.43 160.86 L625.16 160.56 L625.89 160.26 L626.61 159.96 L627.34 159.66 L628.07 159.35 L628.79 159.03 L629.52 158.71 L630.25 158.38 L630.97 158.03 L631.7 157.67 L632.43 157.31 L633.15 156.93 L633.88 156.54 L634.61 156.14 L635.33 155.73 L636.06 155.32 L636.79 154.89 L637.51 154.46 L638.24 154.03 L638.96 153.58 L639.69 153.12 L640.42 152.64 L641.14 152.16 L641.87 151.67 L642.6 151.17 L643.32 150.67 L644.05 150.17 L644.78 149.66 L645.5 149.16 L646.23 148.66 L646.96 148.16 L647.68 147.66 L648.41 147.15 L649.14 146.64 L649.86 146.13 L650.59 145.61 L651.32 145.09 L652.04 144.57 L652.77 144.04 L653.49 143.51 L654.22 142.98 L654.95 142.45 L655.67 141.92 L656.4 141.39 L657.13 140.85 L657.85 140.3 L658.58 139.74 L659.31 139.17 L660.03 138.6 L660.76 138 L661.49 137.4 L662.21 136.79 L662.94 136.16 L663.67 135.53 L664.39 134.88 L665.12 134.22 L665.85 133.55 L666.57 132.85 L667.3 132.15 L668.02 131.42 L668.75 130.67 L669.48 129.9 L670.2 129.11 L670.93 128.29 L671.66 127.46 L672.38 126.61 L673.11 125.75 L673.84 124.88 L674.56 124 L675.29 123.13 L676.02 122.24 L676.74 121.36 L677.47 120.46 L678.2 119.56 L678.92 118.65 L679.65 117.72 L680.38 116.78 L681.1 115.82 L681.83 114.84 L682.55 113.84 L683.28 112.82 L684.01 111.78 L684.73 110.71 L685.46 109.61 L686.19 108.5 L686.91 107.36 L687.64 106.2 L688.37 105.02 L689.09 103.82 L689.82 102.61 L690.55 101.38 L691.27 100.14 L692 98.9 L692.73 97.65 L693.45 96.37 L694.18 95.07 L694.9 93.74 L695.63 92.37 L696.36 90.94 L697.08 89.47 L697.81 87.93 L698.54 86.33 L699.26 84.68 L699.99 82.97 L700.72 81.2 L701.44 79.37 L702.17 77.48 L702.9 75.52 L703.62 73.5 L704.35 71.42 L705.08 69.26 L705.8 67.04 L706.53 64.72 L707.26 62.27 L707.98 59.7 L708.71 57.02 L709.44 54.25 L709.62 53.54 L709.8 52.83 L709.98 52.11 L710.16 51.39 L710.34 50.66 L710.52 49.93 L710.71 49.2 L710.89 48.46 L711.07 47.72 L711.25 46.97 L711.43 46.23 L711.61 45.47 L711.61 45.47 L711.8 44.72 L711.98 43.96 L712.16 43.2 L712.34 42.44 L712.34 42.44 L712.52 41.66 L712.7 40.87 L712.89 40.05 L713.07 39.22 L713.25 38.38 L713.43 37.54 L713.61 36.68 L713.79 35.82 L713.98 34.97 L714.16 34.11 L714.34 33.26 L714.52 32.42 L714.7 31.59 L714.88 30.75 L715.07 29.92 L715.25 29.09 L715.25 29.09 L715.43 28.25 L715.61 27.42 L715.79 26.58 L715.97 25.75 L715.97 25.75 L716.16 24.91 L716.34 24.08 L716.52 23.24 L716.7 22.41" fill="none" stroke="#111111" stroke-width="1.05" stroke-linejoin="round"/>
<path d="M426.1 22.41 L426.28 24.97 L426.46 27.45 L426.64 29.82 L426.83 32.05 L427.01 34.11 L427.19 35.96 L427.37 37.57 L427.55 38.97 L427.73 40.26 L427.92 41.46 L428.1 42.58 L428.28 43.63 L428.46 44.62 L428.64 45.55 L428.82 46.45 L429.01 47.32 L429.19 48.17 L429.37 49.02 L429.55 49.86 L429.73 50.68 L429.91 51.48 L430.1 52.28 L430.28 53.06 L430.46 53.82 L430.64 54.58 L430.82 55.32 L431 56.05 L431.19 56.76 L431.37 57.47 L431.55 58.17 L431.73 58.86 L431.91 59.54 L432.09 60.21 L432.28 60.87 L432.46 61.52 L432.64 62.17 L432.82 62.81 L433 63.45 L433.18 64.08 L433.37 64.7 L434.09 67.16 L434.82 69.57 L435.54 71.97 L436.27 74.4 L437 76.87 L437.72 79.36 L438.45 81.84 L439.18 84.3 L439.9 86.74 L440.63 89.12 L441.36 91.46 L442.08 93.72 L442.81 95.9 L443.54 97.98 L444.26 99.95 L444.99 101.82 L445.72 103.6 L446.44 105.32 L447.17 106.98 L447.9 108.59 L448.62 110.16 L449.35 111.7 L450.07 113.22 L450.8 114.74 L451.53 116.26 L452.25 117.78 L452.98 119.3 L453.71 120.81 L454.43 122.31 L455.16 123.78 L455.89 125.22 L456.61 126.62 L457.34 127.99 L458.07 129.3 L458.79 130.56 L459.52 131.78 L460.25 132.96 L460.97 134.1 L461.7 135.21 L462.43 136.3 L463.15 137.36 L463.88 138.4 L464.6 139.42 L465.33 140.43 L466.06 141.42 L466.78 142.4 L467.51 143.33 L468.24 144.24 L468.96 145.11 L469.69 145.97 L470.42 146.82 L471.14 147.68 L471.87 148.55 L472.6 149.45 L473.32 150.38 L474.05 151.37 L474.78 152.43 L475.5 153.55 L476.23 154.72 L476.96 155.92 L477.68 157.12 L478.41 158.29 L479.13 159.42 L479.86 160.49 L480.59 161.47 L481.31 162.37 L482.04 163.23 L482.77 164.06 L483.49 164.86 L484.22 165.64 L484.95 166.39 L485.67 167.13 L486.4 167.87 L487.13 168.59 L487.85 169.32 L488.58 170.06 L489.31 170.8 L490.03 171.53 L490.76 172.26 L491.49 172.99 L492.21 173.7 L492.94 174.4 L493.66 175.08 L494.39 175.74 L495.12 176.37 L495.84 176.98 L496.57 177.56 L497.3 178.12 L498.02 178.67 L498.75 179.21 L499.48 179.73 L500.2 180.24 L500.93 180.74 L501.66 181.23 L502.38 181.7 L503.11 182.18 L503.84 182.64 L504.56 183.1 L505.29 183.55 L506.02 183.99 L506.74 184.42 L507.47 184.85 L508.19 185.27 L508.92 185.67 L509.65 186.07 L510.37 186.47 L511.1 186.85 L511.83 187.22 L512.55 187.58 L513.28 187.94 L514.01 188.3 L514.73 188.65 L515.46 188.99 L516.19 189.32 L516.91 189.64 L517.64 189.95 L518.37 190.24 L519.09 190.52 L519.82 190.78 L520.55 191.03 L521.27 191.28 L522 191.52 L522.72 191.75 L523.45 191.97 L524.18 192.18 L524.9 192.38 L525.63 192.58 L526.36 192.76 L527.08 192.94 L527.81 193.11 L528.54 193.27 L529.26 193.43 L529.99 193.59 L530.72 193.74 L531.44 193.88 L532.17 194.01 L532.9 194.14 L533.62 194.26 L534.35 194.37 L535.08 194.48 L535.8 194.58 L536.53 194.67 L537.25 194.76 L537.98 194.85 L538.71 194.93 L539.43 195.01 L540.16 195.09 L540.89 195.16 L541.61 195.23 L542.34 195.29 L543.07 195.36 L543.79 195.42 L544.52 195.48 L545.25 195.54 L545.97 195.6 L546.7 195.65 L547.43 195.7 L548.15 195.74 L548.88 195.78 L549.61 195.82 L550.33 195.85 L551.06 195.88 L551.78 195.91 L552.51 195.93 L553.24 195.96 L553.96 195.98 L554.69 196 L555.42 196.03 L556.14 196.06 L556.87 196.09 L557.6 196.12 L558.32 196.15 L559.05 196.18 L559.78 196.21 L560.5 196.25 L561.23 196.29 L561.96 196.33 L562.68 196.37 L563.41 196.43 L564.13 196.49 L564.86 196.57 L565.59 196.65 L566.31 196.74 L567.04 196.83 L567.77 196.92 L568.49 197.01 L569.22 197.09 L569.95 197.17 L570.67 197.23 L571.4 197.29 L572.13 197.36 L572.85 197.43 L573.58 197.49 L574.31 197.56 L575.03 197.62 L575.76 197.67 L576.49 197.72 L577.21 197.76 L577.94 197.79 L578.66 197.8 L579.39 197.8 L580.12 197.76 L580.84 197.68 L581.57 197.57 L582.3 197.44 L583.02 197.29 L583.75 197.13 L584.48 196.97 L585.2 196.81 L585.93 196.66 L586.66 196.51 L587.38 196.36 L588.11 196.2 L588.84 196.03 L589.56 195.86 L590.29 195.68 L591.02 195.5 L591.74 195.31 L592.47 195.13 L593.2 194.94 L593.92 194.76 L594.65 194.56 L595.37 194.37 L596.1 194.17 L596.83 193.97 L597.55 193.77 L598.28 193.56 L599.01 193.36 L599.73 193.15 L600.46 192.94 L601.19 192.73 L601.91 192.52 L602.64 192.31 L603.37 192.1 L604.09 191.88 L604.82 191.67 L605.55 191.45 L606.27 191.22 L607 191 L607.73 190.77 L608.45 190.53 L609.18 190.3 L609.9 190.06 L610.63 189.82 L611.36 189.58 L612.08 189.33 L612.81 189.08 L613.54 188.82 L614.26 188.55 L614.99 188.27 L615.72 187.99 L616.44 187.69 L617.17 187.37 L617.9 187.04 L618.62 186.7 L619.35 186.35 L620.08 186 L620.8 185.65 L621.53 185.31 L622.26 184.97 L622.98 184.64 L623.71 184.33 L624.43 184.02 L625.16 183.72 L625.89 183.42 L626.61 183.13 L627.34 182.83 L628.07 182.53 L628.79 182.22 L629.52 181.9 L630.25 181.56 L630.97 181.21 L631.7 180.84 L632.43 180.44 L633.15 180.04 L633.88 179.61 L634.61 179.18 L635.33 178.74 L636.06 178.29 L636.79 177.83 L637.51 177.37 L638.24 176.92 L638.96 176.46 L639.69 175.99 L640.42 175.52 L641.14 175.04 L641.87 174.55 L642.6 174.06 L643.32 173.57 L644.05 173.07 L644.78 172.56 L645.5 172.05 L646.23 171.54 L646.96 171.02 L647.68 170.5 L648.41 169.98 L649.14 169.45 L649.86 168.91 L650.59 168.36 L651.32 167.81 L652.04 167.25 L652.77 166.68 L653.49 166.1 L654.22 165.51 L654.95 164.92 L655.67 164.32 L656.4 163.71 L657.13 163.09 L657.85 162.46 L658.58 161.81 L659.31 161.14 L660.03 160.46 L660.76 159.75 L661.49 159.02 L662.21 158.26 L662.94 157.47 L663.67 156.66 L664.39 155.84 L665.12 154.99 L665.85 154.13 L666.57 153.25 L667.3 152.35 L668.02 151.45 L668.75 150.53 L669.48 149.58 L670.2 148.61 L670.93 147.62 L671.66 146.61 L672.38 145.59 L673.11 144.56 L673.84 143.52 L674.56 142.48 L675.29 141.44 L676.02 140.4 L676.74 139.37 L677.47 138.35 L678.2 137.31 L678.92 136.27 L679.65 135.2 L680.38 134.1 L681.1 132.97 L681.83 131.79 L682.55 130.56 L683.28 129.28 L684.01 127.93 L684.73 126.53 L685.46 125.08 L686.19 123.59 L686.91 122.06 L687.64 120.5 L688.37 118.92 L689.09 117.31 L689.82 115.69 L690.55 114.03 L691.27 112.34 L692 110.6 L692.73 108.83 L693.45 107.03 L694.18 105.2 L694.9 103.34 L695.63 101.46 L696.36 99.57 L697.08 97.66 L697.81 95.76 L698.54 93.89 L699.26 92.02 L699.99 90.15 L700.72 88.26 L701.44 86.32 L702.17 84.34 L702.9 82.28 L703.62 80.14 L704.35 77.9 L705.08 75.54 L705.8 73.05 L706.53 70.35 L707.26 67.41 L707.98 64.25 L708.71 60.93 L709.44 57.48 L709.62 56.6 L709.8 55.72 L709.98 54.84 L710.16 53.95 L710.34 53.06 L710.52 52.17 L710.71 51.28 L710.89 50.38 L711.07 49.49 L711.25 48.6 L711.43 47.71 L711.61 46.82 L711.61 46.82 L711.8 45.93 L711.98 45.05 L712.16 44.17 L712.34 43.3 L712.34 43.3 L712.52 42.42 L712.7 41.52 L712.89 40.62 L713.07 39.7 L713.25 38.78 L713.43 37.86 L713.61 36.93 L713.79 36.01 L713.98 35.1 L714.16 34.19 L714.34 33.3 L714.52 32.42 L714.7 31.56 L714.88 30.7 L715.07 29.84 L715.25 28.99 L715.25 28.99 L715.43 28.15 L715.61 27.31 L715.79 26.48 L715.97 25.65 L715.97 25.65 L716.16 24.83 L716.34 24.02 L716.52 23.21 L716.7 22.41" fill="none" stroke="#111111" stroke-width="1.05" stroke-linejoin="round"/>
<rect x="423.8" y="20.11" width="4.6" height="4.6" fill="#5a5a5a"/>
<rect x="425.11" y="35.56" width="4.6" height="4.6" fill="#5a5a5a"/>
<rect x="427.07" y="46.72" width="4.6" height="4.6" fill="#5a5a5a"/>
<rect x="434.33" y="73.33" width="4.6" height="4.6" fill="#5a5a5a"/>
<rect x="441.96" y="97.65" width="4.6" height="4.6" fill="#5a5a5a"/>
<rect x="449.23" y="113.96" width="4.6" height="4.6" fill="#5a5a5a"/>
<rect x="456.49" y="128.26" width="4.6" height="4.6" fill="#5a5a5a"/>
<rect x="464.19" y="139.71" width="4.6" height="4.6" fill="#5a5a5a"/>
<rect x="471.6" y="148.87" width="4.6" height="4.6" fill="#5a5a5a"/>
<rect x="710.04" y="39.28" width="4.6" height="4.6" fill="#5a5a5a"/>
<rect x="712.22" y="30.12" width="4.6" height="4.6" fill="#5a5a5a"/>
<rect x="714.4" y="20.11" width="4.6" height="4.6" fill="#5a5a5a"/>
<path d="M426.1 19.35 L429.16 22.41 L426.1 25.47 L423.04 22.41 Z" fill="none" stroke="#111111" stroke-width="1.0"/>
<path d="M427.41 34.8 L430.47 37.86 L427.41 40.92 L424.35 37.86 Z" fill="none" stroke="#111111" stroke-width="1.0"/>
<path d="M429.37 45.96 L432.43 49.02 L429.37 52.08 L426.31 49.02 Z" fill="none" stroke="#111111" stroke-width="1.0"/>
<path d="M436.63 72.57 L439.7 75.63 L436.63 78.69 L433.57 75.63 Z" fill="none" stroke="#111111" stroke-width="1.0"/>
<path d="M444.26 96.89 L447.32 99.95 L444.26 103.01 L441.2 99.95 Z" fill="none" stroke="#111111" stroke-width="1.0"/>
<path d="M451.53 113.2 L454.59 116.26 L451.53 119.32 L448.47 116.26 Z" fill="none" stroke="#111111" stroke-width="1.0"/>
<path d="M458.79 127.5 L461.85 130.56 L458.79 133.63 L455.73 130.56 Z" fill="none" stroke="#111111" stroke-width="1.0"/>
<path d="M466.49 138.95 L469.56 142.01 L466.49 145.07 L463.43 142.01 Z" fill="none" stroke="#111111" stroke-width="1.0"/>
<path d="M473.9 148.1 L476.97 151.17 L473.9 154.23 L470.84 151.17 Z" fill="none" stroke="#111111" stroke-width="1.0"/>
<path d="M480.88 158.77 L483.94 161.83 L480.88 164.89 L477.82 161.83 Z" fill="none" stroke="#111111" stroke-width="1.0"/>
<path d="M488.29 166.7 L491.35 169.76 L488.29 172.83 L485.23 169.76 Z" fill="none" stroke="#111111" stroke-width="1.0"/>
<path d="M495.77 173.85 L498.83 176.92 L495.77 179.98 L492.71 176.92 Z" fill="none" stroke="#111111" stroke-width="1.0"/>
<path d="M503.11 179.11 L506.17 182.18 L503.11 185.24 L500.05 182.18 Z" fill="none" stroke="#111111" stroke-width="1.0"/>
<path d="M510.37 183.4 L513.44 186.47 L510.37 189.53 L507.31 186.47 Z" fill="none" stroke="#111111" stroke-width="1.0"/>
<path d="M518.07 187.06 L521.14 190.12 L518.07 193.19 L515.01 190.12 Z" fill="none" stroke="#111111" stroke-width="1.0"/>
<path d="M525.49 189.48 L528.55 192.54 L525.49 195.6 L522.42 192.54 Z" fill="none" stroke="#111111" stroke-width="1.0"/>
<path d="M532.9 191.08 L535.96 194.14 L532.9 197.2 L529.83 194.14 Z" fill="none" stroke="#111111" stroke-width="1.0"/>
<path d="M540.16 192.03 L543.22 195.09 L540.16 198.15 L537.1 195.09 Z" fill="none" stroke="#111111" stroke-width="1.0"/>
<path d="M548.15 192.68 L551.21 195.74 L548.15 198.8 L545.09 195.74 Z" fill="none" stroke="#111111" stroke-width="1.0"/>
<path d="M555.42 192.97 L558.48 196.03 L555.42 199.09 L552.35 196.03 Z" fill="none" stroke="#111111" stroke-width="1.0"/>
<path d="M562.68 193.31 L565.74 196.37 L562.68 199.44 L559.62 196.37 Z" fill="none" stroke="#111111" stroke-width="1.0"/>
<path d="M564.5 193.47 L567.56 196.53 L564.5 199.59 L561.44 196.53 Z" fill="none" stroke="#111111" stroke-width="1.0"/>
<path d="M566.31 193.68 L569.38 196.74 L566.31 199.8 L563.25 196.74 Z" fill="none" stroke="#111111" stroke-width="1.0"/>
<path d="M568.13 193.9 L571.19 196.96 L568.13 200.03 L565.07 196.96 Z" fill="none" stroke="#111111" stroke-width="1.0"/>
<path d="M569.95 194.1 L573.01 197.17 L569.95 200.23 L566.88 197.17 Z" fill="none" stroke="#111111" stroke-width="1.0"/>
<path d="M571.76 194.26 L574.83 197.33 L571.76 200.39 L568.7 197.33 Z" fill="none" stroke="#111111" stroke-width="1.0"/>
<path d="M573.58 194.43 L576.64 197.49 L573.58 200.56 L570.52 197.49 Z" fill="none" stroke="#111111" stroke-width="1.0"/>
<path d="M575.4 194.59 L578.46 197.65 L575.4 200.71 L572.33 197.65 Z" fill="none" stroke="#111111" stroke-width="1.0"/>
<path d="M577.21 194.7 L580.27 197.76 L577.21 200.82 L574.15 197.76 Z" fill="none" stroke="#111111" stroke-width="1.0"/>
<path d="M579.03 194.74 L582.09 197.8 L579.03 200.87 L575.97 197.8 Z" fill="none" stroke="#111111" stroke-width="1.0"/>
<path d="M585.93 193.6 L588.99 196.66 L585.93 199.72 L582.87 196.66 Z" fill="none" stroke="#111111" stroke-width="1.0"/>
<path d="M593.2 191.88 L596.26 194.94 L593.2 198 L590.13 194.94 Z" fill="none" stroke="#111111" stroke-width="1.0"/>
<path d="M600.46 189.88 L603.52 192.94 L600.46 196 L597.4 192.94 Z" fill="none" stroke="#111111" stroke-width="1.0"/>
<path d="M608.09 187.59 L611.15 190.65 L608.09 193.71 L605.03 190.65 Z" fill="none" stroke="#111111" stroke-width="1.0"/>
<path d="M615.5 185.01 L618.56 188.08 L615.5 191.14 L612.44 188.08 Z" fill="none" stroke="#111111" stroke-width="1.0"/>
<path d="M622.98 181.58 L626.04 184.64 L622.98 187.7 L619.92 184.64 Z" fill="none" stroke="#111111" stroke-width="1.0"/>
<path d="M630.25 178.5 L633.31 181.56 L630.25 184.62 L627.18 181.56 Z" fill="none" stroke="#111111" stroke-width="1.0"/>
<path d="M637.51 174.31 L640.57 177.37 L637.51 180.44 L634.45 177.37 Z" fill="none" stroke="#111111" stroke-width="1.0"/>
<path d="M644.78 169.5 L647.84 172.56 L644.78 175.62 L641.71 172.56 Z" fill="none" stroke="#111111" stroke-width="1.0"/>
<path d="M652.77 163.62 L655.83 166.68 L652.77 169.74 L649.71 166.68 Z" fill="none" stroke="#111111" stroke-width="1.0"/>
<path d="M660.03 157.39 L663.1 160.46 L660.03 163.52 L656.97 160.46 Z" fill="none" stroke="#111111" stroke-width="1.0"/>
<path d="M667.3 149.29 L670.36 152.35 L667.3 155.42 L664.24 152.35 Z" fill="none" stroke="#111111" stroke-width="1.0"/>
<path d="M674.56 139.42 L677.63 142.48 L674.56 145.54 L671.5 142.48 Z" fill="none" stroke="#111111" stroke-width="1.0"/>
<path d="M682.55 127.5 L685.62 130.56 L682.55 133.63 L679.49 130.56 Z" fill="none" stroke="#111111" stroke-width="1.0"/>
<path d="M689.82 112.62 L692.88 115.69 L689.82 118.75 L686.76 115.69 Z" fill="none" stroke="#111111" stroke-width="1.0"/>
<path d="M697.08 94.6 L700.15 97.66 L697.08 100.72 L694.02 97.66 Z" fill="none" stroke="#111111" stroke-width="1.0"/>
<path d="M705.44 71.25 L708.5 74.32 L705.44 77.38 L702.38 74.32 Z" fill="none" stroke="#111111" stroke-width="1.0"/>
<path d="M712.34 40.23 L715.4 43.3 L712.34 46.36 L709.28 43.3 Z" fill="none" stroke="#111111" stroke-width="1.0"/>
<path d="M714.52 29.36 L717.58 32.42 L714.52 35.49 L711.46 32.42 Z" fill="none" stroke="#111111" stroke-width="1.0"/>
<path d="M716.7 19.35 L719.76 22.41 L716.7 25.47 L713.64 22.41 Z" fill="none" stroke="#111111" stroke-width="1.0"/>
<path d="M426.1 18.97 L429.11 24.77 L423.09 24.77 Z" fill="none" stroke="#111111" stroke-width="1.0"/>
<path d="M427.41 34.42 L430.42 40.23 L424.4 40.23 Z" fill="none" stroke="#111111" stroke-width="1.0"/>
<path d="M429.37 45.58 L432.38 51.38 L426.36 51.38 Z" fill="none" stroke="#111111" stroke-width="1.0"/>
<path d="M436.63 72.19 L439.64 77.99 L433.62 77.99 Z" fill="none" stroke="#111111" stroke-width="1.0"/>
<path d="M444.26 96.51 L447.27 102.31 L441.25 102.31 Z" fill="none" stroke="#111111" stroke-width="1.0"/>
<path d="M451.53 112.82 L454.54 118.62 L448.52 118.62 Z" fill="none" stroke="#111111" stroke-width="1.0"/>
<path d="M458.79 127.12 L461.8 132.93 L455.78 132.93 Z" fill="none" stroke="#111111" stroke-width="1.0"/>
<path d="M466.49 138.57 L469.5 144.37 L463.48 144.37 Z" fill="none" stroke="#111111" stroke-width="1.0"/>
<path d="M473.9 147.72 L476.91 153.53 L470.89 153.53 Z" fill="none" stroke="#111111" stroke-width="1.0"/>
<path d="M480.88 157.21 L483.89 163.01 L477.87 163.01 Z" fill="none" stroke="#111111" stroke-width="1.0"/>
<path d="M488.29 164.32 L491.3 170.13 L485.28 170.13 Z" fill="none" stroke="#111111" stroke-width="1.0"/>
<path d="M495.77 170.61 L498.78 176.42 L492.76 176.42 Z" fill="none" stroke="#111111" stroke-width="1.0"/>
<path d="M503.11 175.48 L506.12 181.28 L500.1 181.28 Z" fill="none" stroke="#111111" stroke-width="1.0"/>
<path d="M510.37 179.43 L513.38 185.23 L507.36 185.23 Z" fill="none" stroke="#111111" stroke-width="1.0"/>
<path d="M518.07 182.76 L521.09 188.57 L515.06 188.57 Z" fill="none" stroke="#111111" stroke-width="1.0"/>
<path d="M525.49 184.74 L528.5 190.54 L522.47 190.54 Z" fill="none" stroke="#111111" stroke-width="1.0"/>
<path d="M532.9 185.19 L535.91 191 L529.88 191 Z" fill="none" stroke="#111111" stroke-width="1.0"/>
<path d="M540.16 185 L543.17 190.81 L537.15 190.81 Z" fill="none" stroke="#111111" stroke-width="1.0"/>
<path d="M548.15 184.23 L551.16 190.04 L545.14 190.04 Z" fill="none" stroke="#111111" stroke-width="1.0"/>
<path d="M555.42 182.24 L558.43 188.04 L552.41 188.04 Z" fill="none" stroke="#111111" stroke-width="1.0"/>
<path d="M562.68 180.06 L565.69 185.86 L559.67 185.86 Z" fill="none" stroke="#111111" stroke-width="1.0"/>
<path d="M564.5 179.58 L567.51 185.39 L561.49 185.39 Z" fill="none" stroke="#111111" stroke-width="1.0"/>
<path d="M566.31 179.13 L569.33 184.94 L563.3 184.94 Z" fill="none" stroke="#111111" stroke-width="1.0"/>
<path d="M568.13 178.69 L571.14 184.5 L565.12 184.5 Z" fill="none" stroke="#111111" stroke-width="1.0"/>
<path d="M569.95 178.24 L572.96 184.05 L566.94 184.05 Z" fill="none" stroke="#111111" stroke-width="1.0"/>
<path d="M571.76 177.77 L574.77 183.58 L568.75 183.58 Z" fill="none" stroke="#111111" stroke-width="1.0"/>
<path d="M573.58 177.32 L576.59 183.13 L570.57 183.13 Z" fill="none" stroke="#111111" stroke-width="1.0"/>
<path d="M575.4 176.85 L578.41 182.66 L572.39 182.66 Z" fill="none" stroke="#111111" stroke-width="1.0"/>
<path d="M577.21 176.35 L580.22 182.15 L574.2 182.15 Z" fill="none" stroke="#111111" stroke-width="1.0"/>
<path d="M579.03 175.76 L582.04 181.57 L576.02 181.57 Z" fill="none" stroke="#111111" stroke-width="1.0"/>
<path d="M585.93 172.62 L588.94 178.42 L582.92 178.42 Z" fill="none" stroke="#111111" stroke-width="1.0"/>
<path d="M593.2 169.76 L596.21 175.56 L590.18 175.56 Z" fill="none" stroke="#111111" stroke-width="1.0"/>
<path d="M600.46 166.61 L603.47 172.42 L597.45 172.42 Z" fill="none" stroke="#111111" stroke-width="1.0"/>
<path d="M608.09 163.75 L611.1 169.55 L605.08 169.55 Z" fill="none" stroke="#111111" stroke-width="1.0"/>
<path d="M615.5 161.17 L618.51 166.98 L612.49 166.98 Z" fill="none" stroke="#111111" stroke-width="1.0"/>
<path d="M622.98 158.03 L625.99 163.83 L619.97 163.83 Z" fill="none" stroke="#111111" stroke-width="1.0"/>
<path d="M630.25 154.94 L633.26 160.74 L627.24 160.74 Z" fill="none" stroke="#111111" stroke-width="1.0"/>
<path d="M637.51 151.02 L640.52 156.83 L634.5 156.83 Z" fill="none" stroke="#111111" stroke-width="1.0"/>
<path d="M644.78 146.22 L647.79 152.03 L641.77 152.03 Z" fill="none" stroke="#111111" stroke-width="1.0"/>
<path d="M652.77 140.6 L655.78 146.41 L649.76 146.41 Z" fill="none" stroke="#111111" stroke-width="1.0"/>
<path d="M660.03 135.16 L663.04 140.96 L657.02 140.96 Z" fill="none" stroke="#111111" stroke-width="1.0"/>
<path d="M667.3 128.71 L670.31 134.51 L664.29 134.51 Z" fill="none" stroke="#111111" stroke-width="1.0"/>
<path d="M674.56 120.56 L677.57 126.37 L671.55 126.37 Z" fill="none" stroke="#111111" stroke-width="1.0"/>
<path d="M682.55 110.4 L685.57 116.21 L679.54 116.21 Z" fill="none" stroke="#111111" stroke-width="1.0"/>
<path d="M689.82 99.17 L692.83 104.97 L686.81 104.97 Z" fill="none" stroke="#111111" stroke-width="1.0"/>
<path d="M697.08 86.03 L700.1 91.83 L694.07 91.83 Z" fill="none" stroke="#111111" stroke-width="1.0"/>
<path d="M705.44 64.72 L708.45 70.53 L702.43 70.53 Z" fill="none" stroke="#111111" stroke-width="1.0"/>
<path d="M712.34 39 L715.35 44.8 L709.33 44.8 Z" fill="none" stroke="#111111" stroke-width="1.0"/>
<path d="M714.52 28.98 L717.53 34.79 L711.51 34.79 Z" fill="none" stroke="#111111" stroke-width="1.0"/>
<path d="M716.7 18.97 L719.71 24.77 L713.69 24.77 Z" fill="none" stroke="#111111" stroke-width="1.0"/>
<circle cx="426.1" cy="22.41" r="2.35" fill="none" stroke="#111111" stroke-width="1.0"/>
<circle cx="427.41" cy="37.86" r="2.35" fill="none" stroke="#111111" stroke-width="1.0"/>
<circle cx="429.37" cy="49.02" r="2.35" fill="none" stroke="#111111" stroke-width="1.0"/>
<circle cx="436.63" cy="75.63" r="2.35" fill="none" stroke="#111111" stroke-width="1.0"/>
<circle cx="444.26" cy="99.95" r="2.35" fill="none" stroke="#111111" stroke-width="1.0"/>
<circle cx="451.53" cy="116.26" r="2.35" fill="none" stroke="#111111" stroke-width="1.0"/>
<circle cx="458.79" cy="130.56" r="2.35" fill="none" stroke="#111111" stroke-width="1.0"/>
<circle cx="466.49" cy="142.01" r="2.35" fill="none" stroke="#111111" stroke-width="1.0"/>
<circle cx="473.9" cy="151.17" r="2.35" fill="none" stroke="#111111" stroke-width="1.0"/>
<circle cx="480.88" cy="158.89" r="2.35" fill="none" stroke="#111111" stroke-width="1.0"/>
<circle cx="488.29" cy="165.47" r="2.35" fill="none" stroke="#111111" stroke-width="1.0"/>
<circle cx="495.77" cy="170.62" r="2.35" fill="none" stroke="#111111" stroke-width="1.0"/>
<circle cx="503.11" cy="174.63" r="2.35" fill="none" stroke="#111111" stroke-width="1.0"/>
<circle cx="510.37" cy="177.49" r="2.35" fill="none" stroke="#111111" stroke-width="1.0"/>
<circle cx="518.07" cy="179.21" r="2.35" fill="none" stroke="#111111" stroke-width="1.0"/>
<circle cx="525.49" cy="180.35" r="2.35" fill="none" stroke="#111111" stroke-width="1.0"/>
<circle cx="532.9" cy="180.35" r="2.35" fill="none" stroke="#111111" stroke-width="1.0"/>
<circle cx="540.16" cy="179.49" r="2.35" fill="none" stroke="#111111" stroke-width="1.0"/>
<circle cx="548.15" cy="177.49" r="2.35" fill="none" stroke="#111111" stroke-width="1.0"/>
<circle cx="555.42" cy="173.48" r="2.35" fill="none" stroke="#111111" stroke-width="1.0"/>
<circle cx="562.68" cy="168.33" r="2.35" fill="none" stroke="#111111" stroke-width="1.0"/>
<circle cx="564.5" cy="167.17" r="2.35" fill="none" stroke="#111111" stroke-width="1.0"/>
<circle cx="566.31" cy="166.05" r="2.35" fill="none" stroke="#111111" stroke-width="1.0"/>
<circle cx="568.13" cy="164.97" r="2.35" fill="none" stroke="#111111" stroke-width="1.0"/>
<circle cx="569.95" cy="163.9" r="2.35" fill="none" stroke="#111111" stroke-width="1.0"/>
<circle cx="571.76" cy="162.83" r="2.35" fill="none" stroke="#111111" stroke-width="1.0"/>
<circle cx="573.58" cy="161.8" r="2.35" fill="none" stroke="#111111" stroke-width="1.0"/>
<circle cx="575.4" cy="160.78" r="2.35" fill="none" stroke="#111111" stroke-width="1.0"/>
<circle cx="577.21" cy="159.75" r="2.35" fill="none" stroke="#111111" stroke-width="1.0"/>
<circle cx="579.03" cy="158.67" r="2.35" fill="none" stroke="#111111" stroke-width="1.0"/>
<circle cx="585.93" cy="154.31" r="2.35" fill="none" stroke="#111111" stroke-width="1.0"/>
<circle cx="593.2" cy="150.02" r="2.35" fill="none" stroke="#111111" stroke-width="1.0"/>
<circle cx="600.46" cy="146.59" r="2.35" fill="none" stroke="#111111" stroke-width="1.0"/>
<circle cx="608.09" cy="143.44" r="2.35" fill="none" stroke="#111111" stroke-width="1.0"/>
<circle cx="615.5" cy="140.01" r="2.35" fill="none" stroke="#111111" stroke-width="1.0"/>
<circle cx="622.98" cy="136" r="2.35" fill="none" stroke="#111111" stroke-width="1.0"/>
<circle cx="630.25" cy="132" r="2.35" fill="none" stroke="#111111" stroke-width="1.0"/>
<circle cx="637.51" cy="128.28" r="2.35" fill="none" stroke="#111111" stroke-width="1.0"/>
<circle cx="644.78" cy="124.27" r="2.35" fill="none" stroke="#111111" stroke-width="1.0"/>
<circle cx="652.77" cy="119.69" r="2.35" fill="none" stroke="#111111" stroke-width="1.0"/>
<circle cx="660.03" cy="115.4" r="2.35" fill="none" stroke="#111111" stroke-width="1.0"/>
<circle cx="667.3" cy="109.96" r="2.35" fill="none" stroke="#111111" stroke-width="1.0"/>
<circle cx="674.56" cy="103.1" r="2.35" fill="none" stroke="#111111" stroke-width="1.0"/>
<circle cx="682.55" cy="95.08" r="2.35" fill="none" stroke="#111111" stroke-width="1.0"/>
<circle cx="689.82" cy="85.93" r="2.35" fill="none" stroke="#111111" stroke-width="1.0"/>
<circle cx="697.08" cy="75.06" r="2.35" fill="none" stroke="#111111" stroke-width="1.0"/>
<circle cx="705.44" cy="58.97" r="2.35" fill="none" stroke="#111111" stroke-width="1.0"/>
<circle cx="712.34" cy="41.58" r="2.35" fill="none" stroke="#111111" stroke-width="1.0"/>
<circle cx="714.52" cy="32.42" r="2.35" fill="none" stroke="#111111" stroke-width="1.0"/>
<circle cx="716.7" cy="22.41" r="2.35" fill="none" stroke="#111111" stroke-width="1.0"/>
<rect x="423.89" y="20.2" width="4.42" height="4.42" fill="none" stroke="#111111" stroke-width="1.0"/>
<rect x="425.2" y="35.65" width="4.42" height="4.42" fill="none" stroke="#111111" stroke-width="1.0"/>
<rect x="427.16" y="46.81" width="4.42" height="4.42" fill="none" stroke="#111111" stroke-width="1.0"/>
<rect x="434.43" y="73.42" width="4.42" height="4.42" fill="none" stroke="#111111" stroke-width="1.0"/>
<rect x="442.05" y="97.74" width="4.42" height="4.42" fill="none" stroke="#111111" stroke-width="1.0"/>
<rect x="449.32" y="114.05" width="4.42" height="4.42" fill="none" stroke="#111111" stroke-width="1.0"/>
<rect x="456.58" y="128.36" width="4.42" height="4.42" fill="none" stroke="#111111" stroke-width="1.0"/>
<rect x="464.29" y="139.8" width="4.42" height="4.42" fill="none" stroke="#111111" stroke-width="1.0"/>
<rect x="471.7" y="148.96" width="4.42" height="4.42" fill="none" stroke="#111111" stroke-width="1.0"/>
<rect x="478.67" y="155.54" width="4.42" height="4.42" fill="none" stroke="#111111" stroke-width="1.0"/>
<rect x="486.08" y="160.97" width="4.42" height="4.42" fill="none" stroke="#111111" stroke-width="1.0"/>
<rect x="493.56" y="164.98" width="4.42" height="4.42" fill="none" stroke="#111111" stroke-width="1.0"/>
<rect x="500.9" y="168.41" width="4.42" height="4.42" fill="none" stroke="#111111" stroke-width="1.0"/>
<rect x="508.17" y="170.7" width="4.42" height="4.42" fill="none" stroke="#111111" stroke-width="1.0"/>
<rect x="515.87" y="172.13" width="4.42" height="4.42" fill="none" stroke="#111111" stroke-width="1.0"/>
<rect x="523.28" y="172.42" width="4.42" height="4.42" fill="none" stroke="#111111" stroke-width="1.0"/>
<rect x="530.69" y="171.56" width="4.42" height="4.42" fill="none" stroke="#111111" stroke-width="1.0"/>
<rect x="537.95" y="169.27" width="4.42" height="4.42" fill="none" stroke="#111111" stroke-width="1.0"/>
<rect x="545.94" y="165.84" width="4.42" height="4.42" fill="none" stroke="#111111" stroke-width="1.0"/>
<rect x="553.21" y="160.4" width="4.42" height="4.42" fill="none" stroke="#111111" stroke-width="1.0"/>
<rect x="560.47" y="153.82" width="4.42" height="4.42" fill="none" stroke="#111111" stroke-width="1.0"/>
<rect x="562.29" y="152.09" width="4.42" height="4.42" fill="none" stroke="#111111" stroke-width="1.0"/>
<rect x="564.11" y="150.33" width="4.42" height="4.42" fill="none" stroke="#111111" stroke-width="1.0"/>
<rect x="565.92" y="148.55" width="4.42" height="4.42" fill="none" stroke="#111111" stroke-width="1.0"/>
<rect x="567.74" y="146.79" width="4.42" height="4.42" fill="none" stroke="#111111" stroke-width="1.0"/>
<rect x="569.56" y="145.07" width="4.42" height="4.42" fill="none" stroke="#111111" stroke-width="1.0"/>
<rect x="571.37" y="143.36" width="4.42" height="4.42" fill="none" stroke="#111111" stroke-width="1.0"/>
<rect x="573.19" y="141.67" width="4.42" height="4.42" fill="none" stroke="#111111" stroke-width="1.0"/>
<rect x="575" y="139.99" width="4.42" height="4.42" fill="none" stroke="#111111" stroke-width="1.0"/>
<rect x="576.82" y="138.32" width="4.42" height="4.42" fill="none" stroke="#111111" stroke-width="1.0"/>
<rect x="583.72" y="132.08" width="4.42" height="4.42" fill="none" stroke="#111111" stroke-width="1.0"/>
<rect x="590.99" y="126.07" width="4.42" height="4.42" fill="none" stroke="#111111" stroke-width="1.0"/>
<rect x="598.25" y="121.2" width="4.42" height="4.42" fill="none" stroke="#111111" stroke-width="1.0"/>
<rect x="605.88" y="116.91" width="4.42" height="4.42" fill="none" stroke="#111111" stroke-width="1.0"/>
<rect x="613.29" y="113.19" width="4.42" height="4.42" fill="none" stroke="#111111" stroke-width="1.0"/>
<rect x="620.77" y="109.76" width="4.42" height="4.42" fill="none" stroke="#111111" stroke-width="1.0"/>
<rect x="628.04" y="106.32" width="4.42" height="4.42" fill="none" stroke="#111111" stroke-width="1.0"/>
<rect x="635.3" y="102.89" width="4.42" height="4.42" fill="none" stroke="#111111" stroke-width="1.0"/>
<rect x="642.57" y="99.74" width="4.42" height="4.42" fill="none" stroke="#111111" stroke-width="1.0"/>
<rect x="650.56" y="96.02" width="4.42" height="4.42" fill="none" stroke="#111111" stroke-width="1.0"/>
<rect x="657.83" y="92.3" width="4.42" height="4.42" fill="none" stroke="#111111" stroke-width="1.0"/>
<rect x="665.09" y="88.01" width="4.42" height="4.42" fill="none" stroke="#111111" stroke-width="1.0"/>
<rect x="672.36" y="83.15" width="4.42" height="4.42" fill="none" stroke="#111111" stroke-width="1.0"/>
<rect x="680.35" y="77.71" width="4.42" height="4.42" fill="none" stroke="#111111" stroke-width="1.0"/>
<rect x="687.61" y="71.42" width="4.42" height="4.42" fill="none" stroke="#111111" stroke-width="1.0"/>
<rect x="694.88" y="63.41" width="4.42" height="4.42" fill="none" stroke="#111111" stroke-width="1.0"/>
<rect x="703.23" y="50.26" width="4.42" height="4.42" fill="none" stroke="#111111" stroke-width="1.0"/>
<rect x="710.13" y="39.37" width="4.42" height="4.42" fill="none" stroke="#111111" stroke-width="1.0"/>
<rect x="712.31" y="30.22" width="4.42" height="4.42" fill="none" stroke="#111111" stroke-width="1.0"/>
<rect x="714.49" y="20.2" width="4.42" height="4.42" fill="none" stroke="#111111" stroke-width="1.0"/>
<text transform="scale(1 1.04)" x="200" y="269.038" text-anchor="middle" stroke="#111111" stroke-width="0.22" word-spacing="-1.41">Position along the channel (nm)</text>
<text transform="scale(1 1.04)" x="571.2" y="264.038" text-anchor="middle" stroke="#111111" stroke-width="0.22" word-spacing="-1.41">Position along the channel (nm)</text>
<text transform="translate(12.3 120.8) rotate(-90) scale(1 1.04)" text-anchor="middle" stroke="#111" stroke-width="0.22">Surface Potential (V)</text>
<text transform="translate(385.2 118.6) rotate(-90) scale(1 1.04)" text-anchor="middle" stroke="#111" stroke-width="0.22">Surface potential (V)</text>
<text transform="scale(1 1.04)" x="79.7" y="24.808" text-anchor="start" stroke="#111111" stroke-width="0.22" word-spacing="-0.62">R = 10 nm</text>
<text transform="scale(1 1.04)" x="207.3" y="27.692" text-anchor="start" stroke="#111111" stroke-width="0.22" word-spacing="-0.53">Line : Analytical</text>
<text transform="scale(1 1.04)" x="207.5" y="45.769" text-anchor="start" stroke="#111111" stroke-width="0.22" word-spacing="-0.65">Symbol : Simulated</text>
<text transform="scale(1 1.04)" x="65.3" y="220.096" text-anchor="start" stroke="#111111" stroke-width="0.22">(a)</text>
<text transform="scale(1 1.04)" x="618.1" y="30.577" text-anchor="start" stroke="#111111" stroke-width="0.22" word-spacing="-0.62">R = 10 nm</text>
<text transform="scale(1 1.04)" x="434.8" y="200.865" text-anchor="start" stroke="#111111" stroke-width="0.22" word-spacing="-0.88">Line : Analytical</text>
<text transform="scale(1 1.04)" x="435" y="217.981" text-anchor="start" stroke="#111111" stroke-width="0.22" word-spacing="-1.29">Symbol : Simulated</text>
<text transform="scale(1 1.04)" x="688.6" y="214.135" text-anchor="start" stroke="#111111" stroke-width="0.22">(b)</text>
<text transform="scale(1 1.04)" x="79.77" y="45.769" font-size="14.4" stroke="#111111" stroke-width="0.22">N</text>
<text transform="scale(1 1.04)" x="90.63" y="47.692" font-size="9.7" stroke="#111111" stroke-width="0.22">A</text>
<text transform="scale(1 1.04)" x="100.55" y="45.769" font-size="14.4" stroke="#111111" stroke-width="0.22">=</text>
<text transform="scale(1 1.04)" x="113.65" y="45.769" font-size="14.4" stroke="#111111" stroke-width="0.22">1</text>
<text transform="scale(1 1.04)" x="125.35" y="45.769" font-size="14.4" stroke="#111111" stroke-width="0.22">×</text>
<text transform="scale(1 1.04)" x="131.95" y="45.769" font-size="14.4" stroke="#111111" stroke-width="0.22">10</text>
<text transform="scale(1 1.04)" x="148.77" y="38.365" font-size="10.2" stroke="#111111" stroke-width="0.22">16</text>
<text transform="scale(1 1.04)" x="163.94" y="45.769" font-size="14.4" stroke="#111111" stroke-width="0.22">cm</text>
<text transform="scale(1 1.04)" x="183.8" y="38.365" font-size="10.2" stroke="#111111" stroke-width="0.22">-3</text>
<text transform="scale(1 1.04)" x="80.29" y="68.654" font-size="14.4" stroke="#111111" stroke-width="0.22">V</text>
<text transform="scale(1 1.04)" x="89.35" y="70.577" font-size="9.7" stroke="#111111" stroke-width="0.22">DS</text>
<text transform="scale(1 1.04)" x="107.15" y="68.654" font-size="14.4" stroke="#111111" stroke-width="0.22">=</text>
<text transform="scale(1 1.04)" x="118.69" y="68.654" font-size="14.4" stroke="#111111" stroke-width="0.22">0</text>
<text transform="scale(1 1.04)" x="130.49" y="68.654" font-size="14.4" stroke="#111111" stroke-width="0.22">V</text>
<text transform="scale(1 1.04)" x="80.29" y="91.731" font-size="14.4" stroke="#111111" stroke-width="0.22">V</text>
<text transform="scale(1 1.04)" x="89.66" y="93.654" font-size="9.7" stroke="#111111" stroke-width="0.22">GS</text>
<text transform="scale(1 1.04)" x="107.15" y="91.731" font-size="14.4" stroke="#111111" stroke-width="0.22">=</text>
<text transform="scale(1 1.04)" x="118.69" y="91.731" font-size="14.4" stroke="#111111" stroke-width="0.22">0</text>
<text transform="scale(1 1.04)" x="130.49" y="91.731" font-size="14.4" stroke="#111111" stroke-width="0.22">V</text>
<text transform="scale(1 1.04)" x="80.73" y="114.615" font-size="14.4" stroke="#111111" stroke-width="0.22">t</text>
<text transform="scale(1 1.04)" x="83.74" y="116.538" font-size="9.7" stroke="#111111" stroke-width="0.22">ox</text>
<text transform="scale(1 1.04)" x="98.15" y="114.615" font-size="14.4" stroke="#111111" stroke-width="0.22">=</text>
<text transform="scale(1 1.04)" x="110.7" y="114.615" font-size="14.4" stroke="#111111" stroke-width="0.22">3</text>
<text transform="scale(1 1.04)" x="122.19" y="114.615" font-size="14.4" stroke="#111111" stroke-width="0.22">nm</text>
<text transform="scale(1 1.04)" x="619.13" y="50.673" font-size="14.4" stroke="#111111" stroke-width="0.22">t</text>
<text transform="scale(1 1.04)" x="622.34" y="52.596" font-size="9.7" stroke="#111111" stroke-width="0.22">ox</text>
<text transform="scale(1 1.04)" x="636.75" y="50.673" font-size="14.4" stroke="#111111" stroke-width="0.22">=</text>
<text transform="scale(1 1.04)" x="648.9" y="50.673" font-size="14.4" stroke="#111111" stroke-width="0.22">3</text>
<text transform="scale(1 1.04)" x="659.89" y="50.673" font-size="14.4" stroke="#111111" stroke-width="0.22">nm</text>
<text transform="scale(1 1.04)" x="464.57" y="116.058" font-size="14.4" stroke="#111111" stroke-width="0.22">N</text>
<text transform="scale(1 1.04)" x="475.43" y="117.981" font-size="9.7" stroke="#111111" stroke-width="0.22">A</text>
<text transform="scale(1 1.04)" x="485.35" y="116.058" font-size="14.4" stroke="#111111" stroke-width="0.22">=</text>
<text transform="scale(1 1.04)" x="497.55" y="116.058" font-size="14.4" stroke="#111111" stroke-width="0.22">1</text>
<text transform="scale(1 1.04)" x="508.75" y="116.058" font-size="14.4" stroke="#111111" stroke-width="0.22">×</text>
<text transform="scale(1 1.04)" x="516.75" y="116.058" font-size="14.4" stroke="#111111" stroke-width="0.22">10</text>
<text transform="scale(1 1.04)" x="532.77" y="109.038" font-size="10.2" stroke="#111111" stroke-width="0.22">16</text>
<text transform="scale(1 1.04)" x="547.44" y="116.058" font-size="14.4" stroke="#111111" stroke-width="0.22">cm</text>
<text transform="scale(1 1.04)" x="567.1" y="109.038" font-size="10.2" stroke="#111111" stroke-width="0.22">-3</text>
<path d="M263.9 145.9 L266.8 150.9 L263.9 155.9 L261.1 150.9 Z" fill="none" stroke="#111111" stroke-width="1"/>
<text transform="scale(1 1.04)" x="270.79" y="149.615" font-size="14.4" stroke="#111111" stroke-width="0.22">:</text>
<text transform="scale(1 1.04)" x="278.97" y="149.615" font-size="14.4" stroke="#111111" stroke-width="0.22">N</text>
<text transform="scale(1 1.04)" x="288.45" y="151.538" font-size="9.7" stroke="#111111" stroke-width="0.22">it</text>
<text transform="scale(1 1.04)" x="296.85" y="149.615" font-size="14.4" stroke="#111111" stroke-width="0.22">=</text>
<text transform="scale(1 1.04)" x="308.79" y="149.615" font-size="14.4" stroke="#111111" stroke-width="0.22">0</text>
<text transform="scale(1 1.04)" x="221.12" y="174.231" font-size="14.4" stroke="#111111" stroke-width="0.22">Δ</text>
<text transform="scale(1 1.04)" x="234.54" y="174.231" font-size="14.4" stroke="#111111" stroke-width="0.22">:</text>
<text transform="scale(1 1.04)" x="242.07" y="174.231" font-size="14.4" stroke="#111111" stroke-width="0.22">N</text>
<text transform="scale(1 1.04)" x="251.7" y="176.154" font-size="9.7" stroke="#111111" stroke-width="0.22">it</text>
<text transform="scale(1 1.04)" x="260.55" y="174.231" font-size="14.4" stroke="#111111" stroke-width="0.22">=</text>
<text transform="scale(1 1.04)" x="273.55" y="174.231" font-size="14.4" stroke="#111111" stroke-width="0.22">1</text>
<text transform="scale(1 1.04)" x="280.9" y="174.615" font-size="15.2" stroke="#111111" stroke-width="0.22">×</text>
<text transform="scale(1 1.04)" x="291.05" y="174.231" font-size="14.4" stroke="#111111" stroke-width="0.22">10</text>
<text transform="scale(1 1.04)" x="305.97" y="167.500" font-size="10.2" stroke="#111111" stroke-width="0.22">16</text>
<text transform="scale(1 1.04)" x="318.99" y="174.231" font-size="14.4" stroke="#111111" stroke-width="0.22">m</text>
<text transform="scale(1 1.04)" x="331.3" y="167.500" font-size="10.2" stroke="#111111" stroke-width="0.22">-2</text>
<circle cx="225.65" cy="202.6" r="2.85" fill="none" stroke="#111111" stroke-width="0.95"/>
<text transform="scale(1 1.04)" x="233.94" y="198.558" font-size="14.4" stroke="#111111" stroke-width="0.22">:</text>
<text transform="scale(1 1.04)" x="241.17" y="198.558" font-size="14.4" stroke="#111111" stroke-width="0.22">N</text>
<text transform="scale(1 1.04)" x="250.9" y="200.481" font-size="9.7" stroke="#111111" stroke-width="0.22">it</text>
<text transform="scale(1 1.04)" x="259.35" y="198.558" font-size="14.4" stroke="#111111" stroke-width="0.22">=</text>
<text transform="scale(1 1.04)" x="270.63" y="198.558" font-size="14.4" stroke="#111111" stroke-width="0.22">2</text>
<text transform="scale(1 1.04)" x="280.1" y="198.942" font-size="15.2" stroke="#111111" stroke-width="0.22">×</text>
<text transform="scale(1 1.04)" x="290.25" y="198.558" font-size="14.4" stroke="#111111" stroke-width="0.22">10</text>
<text transform="scale(1 1.04)" x="305.07" y="191.827" font-size="10.2" stroke="#111111" stroke-width="0.22">16</text>
<text transform="scale(1 1.04)" x="318.99" y="198.558" font-size="14.4" stroke="#111111" stroke-width="0.22">m</text>
<text transform="scale(1 1.04)" x="331.3" y="191.827" font-size="10.2" stroke="#111111" stroke-width="0.22">-2</text>
<rect x="222.7" y="224.7" width="6.0" height="5.8" fill="none" stroke="#111111" stroke-width="0.95"/>
<text transform="scale(1 1.04)" x="233.94" y="222.115" font-size="14.4" stroke="#111111" stroke-width="0.22">:</text>
<text transform="scale(1 1.04)" x="241.17" y="222.115" font-size="14.4" stroke="#111111" stroke-width="0.22">N</text>
<text transform="scale(1 1.04)" x="250.9" y="224.038" font-size="9.7" stroke="#111111" stroke-width="0.22">it</text>
<text transform="scale(1 1.04)" x="259.45" y="222.115" font-size="14.4" stroke="#111111" stroke-width="0.22">=</text>
<text transform="scale(1 1.04)" x="271" y="222.115" font-size="14.4" stroke="#111111" stroke-width="0.22">3</text>
<text transform="scale(1 1.04)" x="279.7" y="222.500" font-size="15.2" stroke="#111111" stroke-width="0.22">×</text>
<text transform="scale(1 1.04)" x="289.65" y="222.115" font-size="14.4" stroke="#111111" stroke-width="0.22">10</text>
<text transform="scale(1 1.04)" x="305.17" y="215.385" font-size="10.2" stroke="#111111" stroke-width="0.22">16</text>
<text transform="scale(1 1.04)" x="319.29" y="222.115" font-size="14.4" stroke="#111111" stroke-width="0.22">m</text>
<text transform="scale(1 1.04)" x="331.5" y="215.385" font-size="10.2" stroke="#111111" stroke-width="0.22">-2</text>
<rect x="457.6" y="19.8" width="6.0" height="5.8" fill="none" stroke="#111111" stroke-width="0.95"/>
<text transform="scale(1 1.04)" x="468.89" y="25.096" font-size="14.4" stroke="#111111" stroke-width="0.22">:</text>
<text transform="scale(1 1.04)" x="476.22" y="25.096" font-size="14.4" stroke="#111111" stroke-width="0.22">N</text>
<text transform="scale(1 1.04)" x="485.7" y="27.019" font-size="9.7" stroke="#111111" stroke-width="0.22">it</text>
<text transform="scale(1 1.04)" x="494.35" y="25.096" font-size="14.4" stroke="#111111" stroke-width="0.22">=</text>
<text transform="scale(1 1.04)" x="506.29" y="25.096" font-size="14.4" stroke="#111111" stroke-width="0.22">0</text>
<circle cx="460.65" cy="46.2" r="2.85" fill="none" stroke="#111111" stroke-width="0.95"/>
<text transform="scale(1 1.04)" x="468.94" y="48.173" font-size="14.4" stroke="#111111" stroke-width="0.22">:</text>
<text transform="scale(1 1.04)" x="476.17" y="48.173" font-size="14.4" stroke="#111111" stroke-width="0.22">N</text>
<text transform="scale(1 1.04)" x="485.7" y="50.096" font-size="9.7" stroke="#111111" stroke-width="0.22">it</text>
<text transform="scale(1 1.04)" x="494.45" y="48.173" font-size="14.4" stroke="#111111" stroke-width="0.22">=</text>
<text transform="scale(1 1.04)" x="505.91" y="48.173" font-size="14.4" stroke="#111111" stroke-width="0.22">-</text>
<text transform="scale(1 1.04)" x="511.05" y="48.173" font-size="14.4" stroke="#111111" stroke-width="0.22">1</text>
<text transform="scale(1 1.04)" x="518.55" y="48.173" font-size="14.4" stroke="#111111" stroke-width="0.22">×</text>
<text transform="scale(1 1.04)" x="527.75" y="48.173" font-size="14.4" stroke="#111111" stroke-width="0.22">10</text>
<text transform="scale(1 1.04)" x="543.57" y="41.442" font-size="10.2" stroke="#111111" stroke-width="0.22">16</text>
<text transform="scale(1 1.04)" x="557.09" y="48.173" font-size="14.4" stroke="#111111" stroke-width="0.22">m</text>
<text transform="scale(1 1.04)" x="569.4" y="41.442" font-size="10.2" stroke="#111111" stroke-width="0.22">-2</text>
<text transform="scale(1 1.04)" x="456.12" y="71.154" font-size="14.4" stroke="#111111" stroke-width="0.22">Δ</text>
<text transform="scale(1 1.04)" x="470.24" y="71.154" font-size="14.4" stroke="#111111" stroke-width="0.22">:</text>
<text transform="scale(1 1.04)" x="477.17" y="71.154" font-size="14.4" stroke="#111111" stroke-width="0.22">N</text>
<text transform="scale(1 1.04)" x="487.3" y="73.077" font-size="9.7" stroke="#111111" stroke-width="0.22">it</text>
<text transform="scale(1 1.04)" x="495.55" y="71.154" font-size="14.4" stroke="#111111" stroke-width="0.22">=</text>
<text transform="scale(1 1.04)" x="506.91" y="71.154" font-size="14.4" stroke="#111111" stroke-width="0.22">-</text>
<text transform="scale(1 1.04)" x="511.43" y="71.154" font-size="14.4" stroke="#111111" stroke-width="0.22">2</text>
<text transform="scale(1 1.04)" x="519.85" y="71.154" font-size="14.4" stroke="#111111" stroke-width="0.22">×</text>
<text transform="scale(1 1.04)" x="529.05" y="71.154" font-size="14.4" stroke="#111111" stroke-width="0.22">10</text>
<text transform="scale(1 1.04)" x="544.47" y="64.423" font-size="10.2" stroke="#111111" stroke-width="0.22">16</text>
<text transform="scale(1 1.04)" x="557.99" y="71.154" font-size="14.4" stroke="#111111" stroke-width="0.22">m</text>
<text transform="scale(1 1.04)" x="570" y="64.423" font-size="10.2" stroke="#111111" stroke-width="0.22">-2</text>
<path d="M460.3 89.2 L463.2 94.2 L460.3 99.2 L457.5 94.2 Z" fill="none" stroke="#111111" stroke-width="1"/>
<text transform="scale(1 1.04)" x="467.64" y="95.096" font-size="14.4" stroke="#111111" stroke-width="0.22">:</text>
<text transform="scale(1 1.04)" x="474.27" y="95.096" font-size="14.4" stroke="#111111" stroke-width="0.22">N</text>
<text transform="scale(1 1.04)" x="484.7" y="97.019" font-size="9.7" stroke="#111111" stroke-width="0.22">it</text>
<text transform="scale(1 1.04)" x="492.55" y="95.096" font-size="14.4" stroke="#111111" stroke-width="0.22">=</text>
<text transform="scale(1 1.04)" x="504.21" y="95.096" font-size="14.4" stroke="#111111" stroke-width="0.22">-</text>
<text transform="scale(1 1.04)" x="508.7" y="95.096" font-size="14.4" stroke="#111111" stroke-width="0.22">3</text>
<text transform="scale(1 1.04)" x="516.85" y="95.096" font-size="14.4" stroke="#111111" stroke-width="0.22">×</text>
<text transform="scale(1 1.04)" x="525.15" y="95.096" font-size="14.4" stroke="#111111" stroke-width="0.22">10</text>
<text transform="scale(1 1.04)" x="541.27" y="88.365" font-size="10.2" stroke="#111111" stroke-width="0.22">16</text>
<text transform="scale(1 1.04)" x="555.19" y="95.096" font-size="14.4" stroke="#111111" stroke-width="0.22">m</text>
<text transform="scale(1 1.04)" x="567.5" y="88.365" font-size="10.2" stroke="#111111" stroke-width="0.22">-2</text>
</g>
</svg>
</body></html>
